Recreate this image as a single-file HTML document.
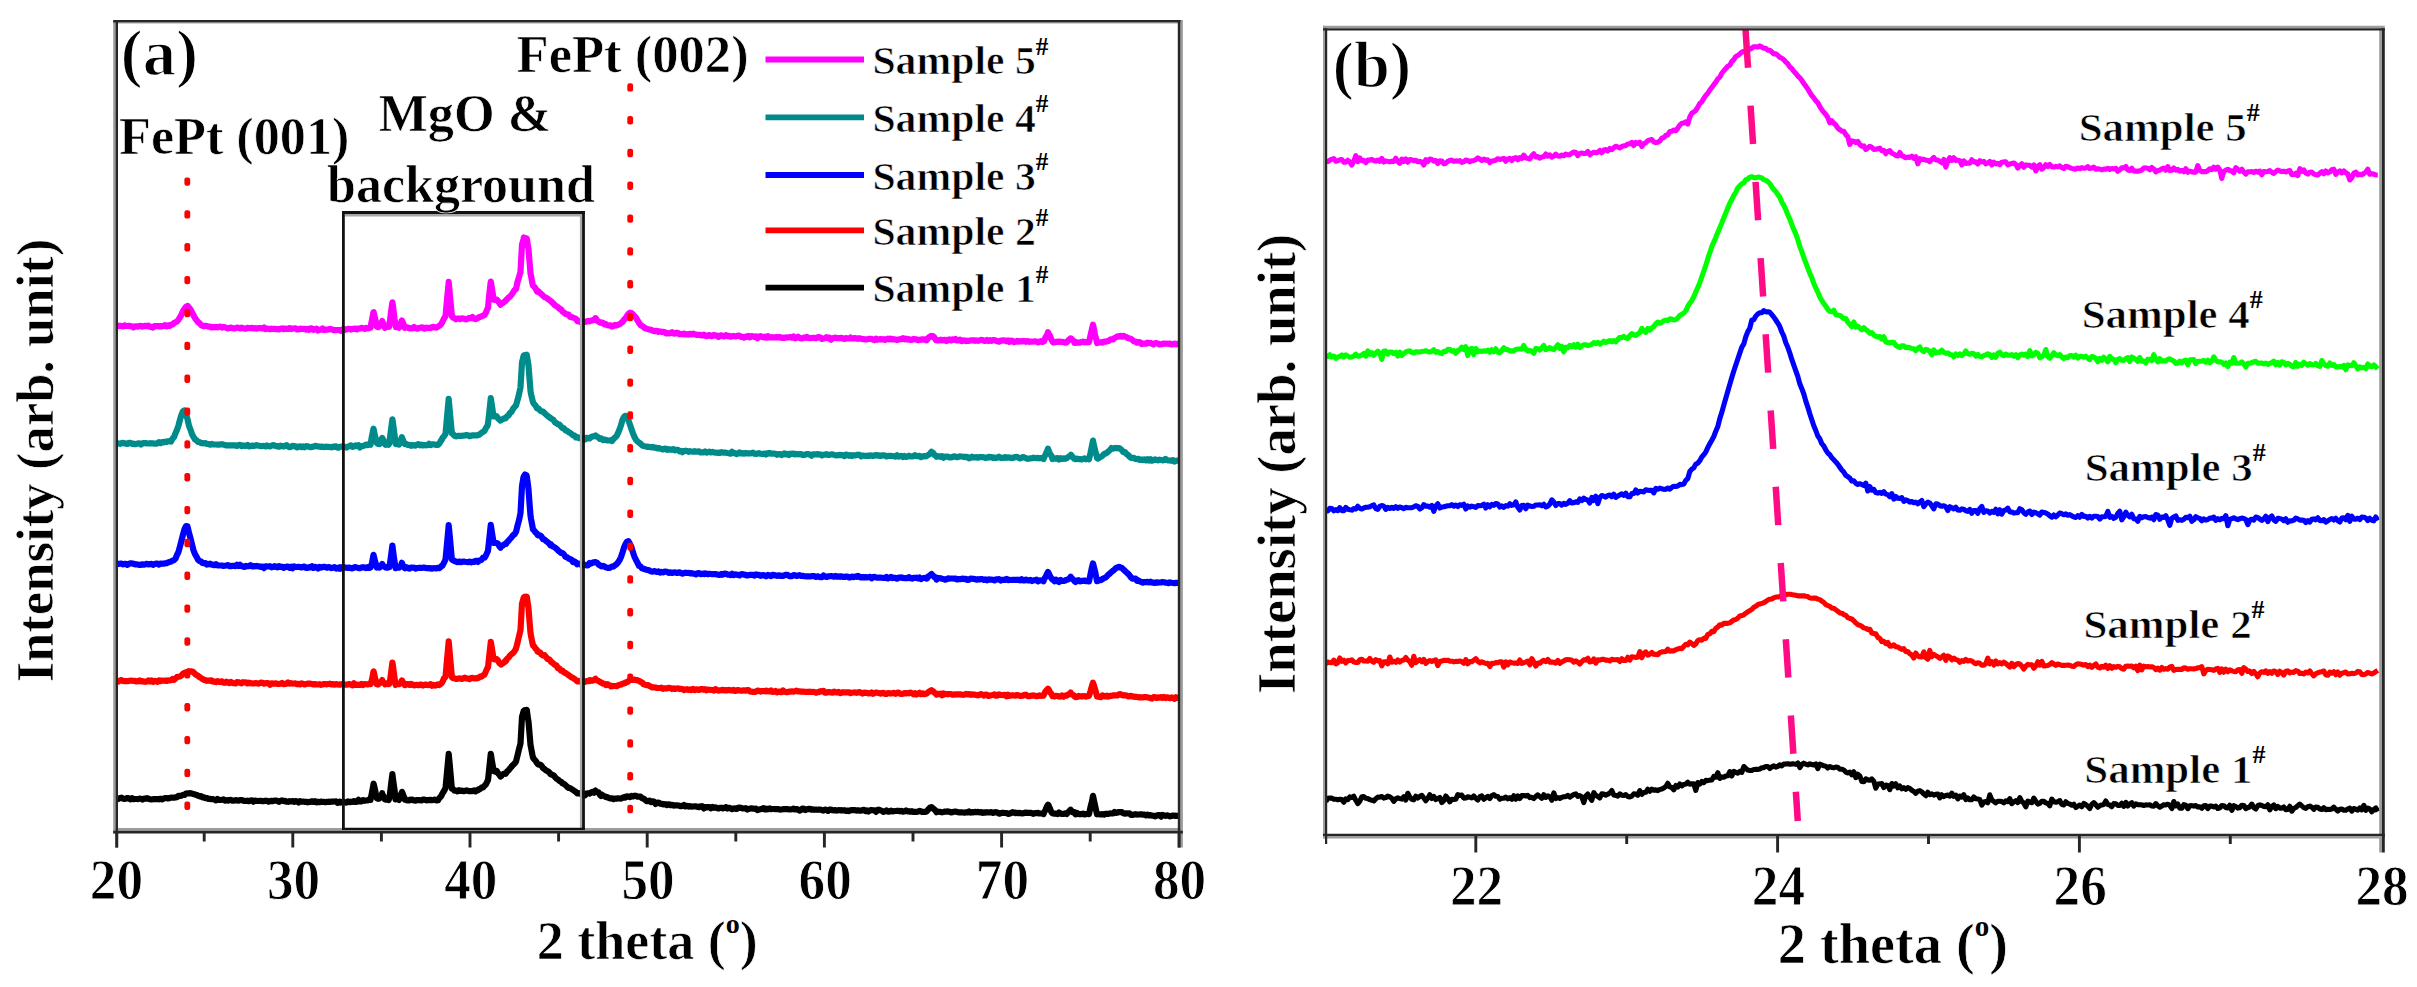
<!DOCTYPE html>
<html><head><meta charset="utf-8"><title>XRD patterns</title>
<style>html,body{margin:0;padding:0;background:#fff;overflow:hidden}svg{display:block}</style>
</head><body>
<svg width="2417" height="987" viewBox="0 0 2417 987">
<rect width="100%" height="100%" fill="#fff"/>
<g fill="none" stroke-width="6.2" stroke-linejoin="round" stroke-linecap="butt">
<path stroke="#ff00ff" d="M117.0 325.6L118.5 325.9L120.0 325.8L121.5 326.0L123.0 326.5L124.5 325.4L126.0 326.0L127.5 326.0L129.0 325.8L130.5 326.2L132.0 326.3L133.5 327.4L135.0 326.4L136.5 326.3L138.0 326.7L139.5 325.8L141.0 326.0L142.5 326.6L144.0 326.1L145.5 325.9L147.0 326.1L148.5 325.7L150.0 326.8L151.5 326.9L153.0 327.5L154.5 326.1L156.0 326.2L157.5 326.1L159.0 326.4L160.5 326.1L162.0 326.4L163.5 325.8L165.0 325.2L166.5 326.4L168.0 325.3L169.5 325.8L171.0 324.8L172.5 324.5L174.0 323.0L175.5 322.3L177.0 321.5L178.5 319.8L180.0 317.2L181.5 314.7L183.0 310.9L184.5 309.0L186.0 306.7L187.5 305.9L189.0 307.6L190.5 309.5L192.0 312.2L193.5 315.4L195.0 318.0L196.5 320.2L198.0 322.2L199.5 323.2L201.0 324.8L202.5 325.8L204.0 326.1L205.5 325.8L207.0 326.0L208.5 326.7L210.0 326.6L211.5 327.4L213.0 327.0L214.5 327.3L216.0 326.9L217.5 327.3L219.0 326.8L220.5 326.7L222.0 327.6L223.5 327.0L225.0 327.3L226.5 328.0L228.0 328.4L229.5 327.8L231.0 327.6L232.5 328.2L234.0 328.3L235.5 328.2L237.0 327.6L238.5 327.8L240.0 328.5L241.5 327.6L243.0 328.1L244.5 328.7L246.0 328.6L247.5 327.9L249.0 328.1L250.5 328.2L252.0 327.8L253.5 328.4L255.0 328.0L256.5 328.7L258.0 328.0L259.5 328.2L261.0 328.2L262.5 328.5L264.0 327.5L265.5 329.0L267.0 328.5L268.5 328.7L270.0 329.2L271.5 328.7L273.0 328.9L274.5 328.8L276.0 329.2L277.5 329.1L279.0 329.4L280.5 328.8L282.0 328.4L283.5 329.1L285.0 328.5L286.5 329.0L288.0 328.9L289.5 328.1L291.0 328.9L292.5 328.6L294.0 328.5L295.5 328.3L297.0 329.4L298.5 329.5L300.0 328.7L301.5 328.8L303.0 328.9L304.5 328.8L306.0 329.6L307.5 328.9L309.0 329.8L310.5 328.3L312.0 328.6L313.5 329.8L315.0 329.3L316.5 328.6L318.0 330.5L319.5 329.8L321.0 329.7L322.5 328.5L324.0 330.0L325.5 329.6L327.0 329.6L328.5 329.5L330.0 328.9L331.5 329.2L333.0 329.9L334.5 330.2L336.0 330.1L337.5 330.0L339.0 330.0L340.0 330.1L340.5 330.8L342.0 329.8L343.5 329.0L345.0 329.8L346.5 329.3L348.0 328.9L349.5 328.8L351.0 329.6L352.5 328.8L354.0 329.0L355.5 328.6L357.0 329.4L358.5 328.6L360.0 328.5L361.5 327.9L363.0 328.0L364.5 328.9L366.0 327.9L367.5 328.5L369.0 327.9L370.5 327.6L372.0 319.8L373.5 312.0L373.6 312.0L375.0 318.1L376.5 324.5L376.8 326.4L378.0 327.2L379.5 326.1L381.0 323.5L382.2 321.1L382.5 322.3L384.0 324.6L385.0 327.8L385.5 326.6L387.0 327.0L388.5 326.3L389.2 326.8L390.0 320.4L391.5 308.5L392.4 302.4L393.0 306.4L394.5 318.4L395.6 325.2L396.0 327.1L397.5 326.6L399.0 327.7L400.5 323.9L401.9 320.5L402.0 320.6L403.5 324.2L404.8 327.9L405.0 327.5L406.5 327.1L408.0 327.8L409.5 328.3L410.0 328.2L411.0 328.3L412.5 328.3L414.0 327.0L415.5 328.1L417.0 328.7L418.5 328.2L420.0 327.8L421.5 327.4L423.0 327.6L424.5 328.7L426.0 327.7L427.5 328.1L429.0 327.8L430.5 328.1L432.0 327.2L433.5 326.8L435.0 327.5L436.5 327.7L438.0 326.5L439.5 325.8L441.0 324.3L441.5 323.6L442.5 321.8L444.0 318.5L445.5 316.3L447.0 299.8L448.5 284.3L448.7 281.9L450.0 296.2L451.5 311.7L451.9 316.2L453.0 317.5L454.5 318.1L456.0 319.3L457.5 318.6L459.0 318.5L460.5 319.1L462.0 318.3L463.5 318.5L465.0 319.2L466.5 319.3L468.0 318.4L469.5 317.9L471.0 318.2L472.5 317.1L474.0 318.7L475.5 319.1L477.0 318.4L478.0 317.9L478.5 317.5L480.0 316.9L481.5 316.3L483.0 315.7L484.5 314.9L486.0 312.2L487.5 308.6L488.0 308.0L489.0 297.0L490.5 283.7L490.8 281.6L492.0 288.8L493.5 298.7L493.6 299.6L495.0 299.9L496.5 299.7L496.8 299.7L498.0 301.0L499.5 303.2L500.5 304.7L501.0 303.6L502.5 303.1L504.0 302.1L505.5 301.0L506.0 300.3L507.0 299.3L508.5 297.7L510.0 296.5L511.3 295.0L511.5 294.9L513.0 292.6L514.5 290.2L516.0 289.0L517.5 282.0L519.0 277.3L520.5 271.8L522.0 244.5L523.5 239.3L523.8 237.5L525.0 238.4L526.5 238.4L526.8 238.7L528.0 246.2L528.5 249.0L529.5 261.6L530.5 273.5L531.0 275.6L532.5 283.9L533.0 285.6L534.0 286.5L535.5 288.3L537.0 291.4L537.6 290.8L538.5 291.5L540.0 293.0L541.5 294.2L543.0 295.7L544.5 297.1L546.0 297.6L547.5 298.7L549.0 299.7L550.5 300.8L550.8 301.0L552.0 302.2L553.5 303.7L555.0 305.2L556.5 306.3L558.0 307.2L559.5 308.8L561.0 309.2L562.5 311.6L564.0 312.5L565.5 313.9L567.0 314.2L568.5 314.5L570.0 316.9L571.5 317.0L573.0 317.6L574.5 318.1L576.0 319.0L577.2 320.9L577.5 321.1L579.0 320.9L580.5 322.2L582.0 321.7L583.5 322.4L585.0 321.9L586.5 321.5L588.0 320.9L589.5 321.3L590.0 320.9L591.0 320.6L592.5 320.3L594.0 319.8L595.5 319.5L595.6 318.1L597.0 320.6L598.5 321.5L600.0 322.6L601.0 322.8L601.5 322.6L603.0 322.9L604.5 324.4L606.0 324.1L607.5 325.3L609.0 325.5L610.5 325.3L611.0 326.0L612.0 326.5L613.5 325.9L615.0 324.9L616.5 325.4L618.0 324.8L619.5 324.3L621.0 323.1L622.5 322.0L624.0 319.7L625.0 318.7L625.5 318.4L627.0 315.9L628.5 313.8L630.0 312.7L631.5 313.0L633.0 314.3L634.5 316.3L636.0 317.7L637.5 320.4L639.0 322.9L640.5 325.0L642.0 325.9L643.5 326.8L645.0 328.3L646.5 328.6L648.0 329.1L649.5 329.6L651.0 329.8L652.5 330.6L654.0 331.2L655.5 330.9L657.0 330.8L658.5 331.8L660.0 331.4L661.5 331.8L663.0 331.9L664.5 332.0L666.0 333.3L667.0 332.9L667.5 333.2L669.0 333.4L670.5 333.0L672.0 332.1L673.5 333.4L675.0 333.6L676.5 332.7L678.0 333.1L679.5 334.2L681.0 334.0L682.5 334.3L684.0 333.6L685.5 334.4L687.0 334.2L688.5 334.6L690.0 333.8L691.5 334.5L693.0 333.6L694.5 334.3L696.0 334.6L697.5 334.9L699.0 334.9L700.5 334.9L702.0 335.5L703.5 335.3L704.0 334.8L705.0 335.7L706.5 336.1L708.0 335.5L709.5 335.0L711.0 336.2L712.5 335.9L714.0 334.8L715.5 335.7L717.0 335.6L718.5 336.9L720.0 335.8L721.5 335.3L723.0 336.2L724.5 336.5L726.0 335.2L727.5 336.1L729.0 335.9L730.5 336.6L732.0 336.4L733.5 335.9L735.0 336.4L736.5 336.3L738.0 335.6L739.5 335.8L741.0 336.8L742.5 336.9L744.0 337.6L745.5 336.6L747.0 336.9L748.5 336.0L750.0 337.3L751.5 336.1L753.0 336.3L754.5 337.0L756.0 336.4L757.5 338.1L759.0 336.6L760.5 336.2L762.0 336.8L763.5 337.4L765.0 336.6L766.0 337.5L766.5 337.6L768.0 336.3L769.5 337.4L771.0 337.2L772.5 337.3L774.0 337.3L775.5 337.5L777.0 337.0L778.5 337.5L780.0 337.0L781.5 337.9L783.0 337.7L784.5 337.8L786.0 337.4L787.5 337.5L789.0 337.2L790.5 337.0L792.0 337.7L793.5 336.6L795.0 338.3L796.5 337.8L798.0 336.7L799.5 337.9L801.0 338.3L802.5 338.3L804.0 337.5L805.5 337.8L807.0 336.9L808.5 338.0L810.0 338.2L811.5 338.0L813.0 337.9L814.5 337.9L816.0 338.2L817.5 337.4L819.0 337.1L820.5 337.6L822.0 339.0L823.5 338.6L825.0 338.1L826.5 337.2L828.0 338.3L829.5 337.7L831.0 339.7L832.5 338.4L834.0 337.8L835.5 337.7L837.0 338.2L838.5 338.0L840.0 338.1L841.5 337.9L843.0 338.5L844.5 338.9L846.0 338.1L847.5 338.5L849.0 338.5L850.5 337.5L852.0 338.5L853.5 338.5L855.0 338.0L856.5 338.4L858.0 338.8L859.5 338.3L861.0 338.7L862.5 339.1L864.0 339.2L865.5 339.4L867.0 339.4L868.5 338.9L870.0 338.9L871.5 338.8L873.0 339.6L874.5 340.1L876.0 338.7L877.5 339.7L879.0 339.5L880.5 339.1L882.0 339.4L883.5 339.2L885.0 339.8L886.5 339.2L888.0 338.7L889.5 339.3L891.0 338.6L892.5 339.5L894.0 339.2L895.5 339.5L897.0 339.9L898.5 339.5L900.0 339.2L901.5 339.1L903.0 338.2L904.5 339.3L906.0 338.7L907.5 339.6L909.0 339.2L910.5 340.0L912.0 339.7L913.5 338.9L915.0 339.3L916.5 339.4L918.0 340.1L919.5 339.9L921.0 339.6L922.5 339.3L924.0 339.7L925.5 339.3L926.5 340.3L927.0 339.6L928.5 337.7L930.0 336.6L931.5 335.9L931.6 336.6L933.0 336.1L934.5 337.7L936.0 340.2L936.5 340.2L937.5 340.3L939.0 340.4L940.5 339.7L942.0 340.3L943.5 340.2L945.0 339.8L946.5 341.0L948.0 339.9L949.5 339.3L951.0 340.3L952.5 339.3L954.0 339.9L955.5 339.0L957.0 340.4L958.5 340.3L960.0 339.7L961.5 341.1L963.0 340.4L964.5 340.5L966.0 341.1L967.5 340.7L969.0 340.9L970.5 340.4L972.0 340.3L973.5 340.3L975.0 340.8L976.5 340.4L978.0 340.8L979.5 340.4L981.0 339.9L982.5 340.0L984.0 340.8L985.5 340.8L987.0 340.0L988.5 341.0L990.0 340.2L991.5 340.8L993.0 340.2L994.5 340.1L996.0 340.8L997.5 341.3L999.0 341.7L1000.5 340.7L1002.0 340.6L1003.5 340.3L1005.0 340.5L1006.5 341.3L1008.0 340.5L1009.5 341.9L1011.0 340.7L1012.5 340.8L1014.0 342.1L1015.5 341.7L1017.0 340.9L1018.5 341.6L1020.0 341.2L1021.5 341.5L1023.0 341.1L1024.5 341.0L1026.0 341.8L1027.5 341.0L1029.0 341.8L1030.5 341.7L1032.0 341.7L1033.5 341.5L1035.0 341.3L1036.5 341.5L1038.0 342.4L1039.5 341.7L1041.0 341.2L1042.5 341.9L1043.5 341.4L1044.0 341.3L1045.5 337.4L1047.0 335.3L1048.0 332.2L1048.5 333.5L1050.0 335.9L1051.5 339.9L1052.5 341.4L1053.0 342.3L1054.5 342.3L1056.0 341.9L1057.5 341.9L1059.0 341.6L1060.5 341.8L1062.0 341.9L1063.5 342.1L1065.0 342.7L1066.5 342.5L1068.0 340.7L1069.5 339.5L1070.6 338.3L1071.0 338.5L1072.5 340.0L1074.0 341.0L1074.5 342.8L1075.5 341.9L1077.0 342.8L1078.5 342.5L1080.0 342.7L1081.5 342.1L1083.0 341.7L1084.5 342.3L1086.0 342.1L1087.5 342.3L1089.0 342.1L1090.5 335.5L1092.0 329.0L1093.0 324.7L1093.5 326.7L1095.0 335.0L1096.5 340.2L1097.0 343.0L1098.0 342.7L1099.5 342.4L1101.0 342.3L1102.5 342.6L1104.0 341.5L1105.5 341.7L1107.0 341.2L1108.5 340.9L1110.0 339.8L1111.5 339.3L1113.0 339.4L1114.5 338.0L1116.0 337.3L1117.5 336.3L1119.0 336.5L1120.5 335.9L1122.0 336.6L1123.5 335.9L1125.0 336.6L1126.5 337.1L1128.0 338.0L1129.5 338.4L1131.0 338.9L1132.5 340.1L1134.0 341.3L1135.5 341.6L1137.0 342.7L1138.5 342.0L1140.0 342.3L1141.5 344.1L1143.0 343.7L1144.5 343.6L1146.0 343.7L1147.5 342.6L1149.0 343.1L1150.5 343.0L1152.0 343.6L1153.5 344.4L1155.0 343.4L1156.5 343.1L1158.0 343.6L1159.5 344.4L1161.0 344.2L1162.5 343.9L1164.0 343.6L1165.5 343.5L1167.0 343.7L1168.5 343.8L1170.0 343.6L1171.5 344.4L1173.0 344.2L1174.5 343.5L1176.0 344.4L1177.5 343.8L1179.0 344.5"/>
<path stroke="#008b8b" d="M117.0 442.8L118.5 443.5L120.0 443.8L121.5 443.2L123.0 442.8L124.5 443.4L126.0 443.6L127.5 443.9L129.0 442.9L130.5 442.9L132.0 443.8L133.5 443.7L135.0 444.2L136.5 443.9L138.0 443.4L139.5 443.4L141.0 444.6L142.5 443.4L144.0 443.1L145.5 443.0L147.0 443.5L148.5 443.5L150.0 443.2L151.5 443.3L153.0 443.4L154.5 443.6L156.0 443.7L157.5 443.2L159.0 442.2L160.5 443.2L162.0 442.1L163.5 442.5L165.0 441.7L166.5 442.1L168.0 441.3L169.5 441.1L171.0 441.6L172.5 438.7L174.0 437.1L175.5 433.2L177.0 429.8L178.5 425.4L180.0 419.6L181.5 414.6L183.0 411.1L184.5 410.5L186.0 414.5L187.5 419.0L189.0 425.8L190.5 429.6L192.0 434.2L193.5 436.9L195.0 439.4L196.5 440.2L198.0 441.9L199.5 442.0L201.0 443.1L202.5 443.2L204.0 443.3L205.5 443.1L207.0 444.0L208.5 444.0L210.0 444.7L211.5 443.9L213.0 444.5L214.5 444.5L216.0 444.5L217.5 444.6L219.0 444.6L220.5 444.4L222.0 444.2L223.5 444.6L225.0 445.1L226.5 445.5L228.0 445.3L229.5 445.4L231.0 445.3L232.5 445.4L234.0 445.2L235.5 445.5L237.0 446.0L238.5 445.0L240.0 444.9L241.5 446.2L243.0 445.4L244.5 445.8L246.0 445.8L247.5 444.9L249.0 446.5L250.5 446.3L252.0 445.6L253.5 445.9L255.0 445.6L256.5 445.2L258.0 445.6L259.5 445.8L261.0 446.2L262.5 446.0L264.0 445.8L265.5 446.4L267.0 445.4L268.5 446.2L270.0 446.3L271.5 445.7L273.0 445.1L274.5 445.5L276.0 446.1L277.5 446.2L279.0 446.7L280.5 445.6L282.0 446.1L283.5 446.4L285.0 446.0L286.5 445.1L288.0 446.5L289.5 447.2L291.0 446.7L292.5 445.8L294.0 446.1L295.5 446.4L297.0 447.4L298.5 446.6L300.0 446.4L301.5 447.1L303.0 446.4L304.5 447.3L306.0 446.2L307.5 446.3L309.0 446.8L310.5 447.2L312.0 446.9L313.5 446.7L315.0 445.8L316.5 446.3L318.0 446.4L319.5 446.5L321.0 447.0L322.5 446.6L324.0 447.1L325.5 446.8L327.0 446.7L328.5 446.9L330.0 447.1L331.5 447.3L333.0 446.7L334.5 446.8L336.0 446.3L337.5 447.7L339.0 447.7L340.0 446.9L340.5 446.8L342.0 446.4L343.5 446.9L345.0 446.8L346.5 447.6L348.0 446.7L349.5 446.1L351.0 445.3L352.5 446.9L354.0 446.3L355.5 445.4L357.0 446.1L358.5 445.2L360.0 447.4L361.5 446.2L363.0 445.9L364.5 445.5L366.0 444.5L367.5 445.1L369.0 444.1L370.5 444.8L372.0 435.8L373.5 428.7L373.6 429.1L375.0 435.9L376.5 441.7L376.8 442.9L378.0 444.0L379.5 444.1L381.0 440.2L382.2 437.9L382.5 438.5L384.0 441.6L385.0 444.0L385.5 444.8L387.0 444.4L388.5 444.8L389.2 443.8L390.0 437.7L391.5 425.8L392.4 419.3L393.0 423.3L394.5 434.4L395.6 443.7L396.0 444.1L397.5 444.1L399.0 444.6L400.5 440.8L401.9 437.2L402.0 437.8L403.5 441.2L404.8 444.1L405.0 443.8L406.5 444.1L408.0 444.9L409.5 445.2L410.0 444.9L411.0 445.8L412.5 445.2L414.0 445.3L415.5 445.6L417.0 444.7L418.5 444.1L420.0 445.3L421.5 444.6L423.0 445.5L424.5 445.0L426.0 445.3L427.5 445.2L429.0 443.8L430.5 445.1L432.0 444.4L433.5 444.4L435.0 444.5L436.5 445.0L438.0 445.0L439.5 443.4L441.0 440.5L441.5 440.4L442.5 437.9L444.0 436.3L445.5 434.0L447.0 417.0L448.5 401.1L448.7 398.9L450.0 413.5L451.5 429.1L451.9 433.4L453.0 434.0L454.5 435.9L456.0 436.4L457.5 435.8L459.0 435.9L460.5 435.8L462.0 435.8L463.5 435.6L465.0 435.5L466.5 435.0L468.0 435.2L469.5 436.2L471.0 435.7L472.5 435.4L474.0 435.3L475.5 435.3L477.0 435.4L478.0 434.9L478.5 435.0L480.0 434.1L481.5 432.8L483.0 431.9L484.5 430.9L486.0 427.9L487.5 425.8L488.0 423.3L489.0 415.0L490.5 400.9L490.8 398.2L492.0 406.2L493.5 416.3L493.6 416.5L495.0 416.4L496.5 416.2L496.8 416.5L498.0 418.4L499.5 419.7L500.5 420.6L501.0 420.2L502.5 419.3L504.0 418.3L505.5 418.5L506.0 417.8L507.0 416.4L508.5 415.5L510.0 412.9L511.3 412.1L511.5 411.9L513.0 408.9L514.5 407.0L516.0 405.4L517.5 400.2L519.0 394.4L520.5 387.3L522.0 362.4L523.5 356.3L523.8 355.3L525.0 355.2L526.5 355.3L526.8 354.7L528.0 362.5L528.5 365.4L529.5 378.2L530.5 391.0L531.0 393.9L532.5 400.3L533.0 402.3L534.0 404.0L535.5 405.4L537.0 408.4L537.6 408.4L538.5 408.5L540.0 410.4L541.5 411.4L543.0 411.6L544.5 413.2L546.0 414.5L547.5 415.8L549.0 417.0L550.5 417.9L550.8 418.4L552.0 419.0L553.5 420.1L555.0 422.4L556.5 423.1L558.0 424.3L559.5 424.6L561.0 426.5L562.5 428.1L564.0 428.4L565.5 430.4L567.0 430.7L568.5 432.1L570.0 432.8L571.5 433.9L573.0 435.4L574.5 435.6L576.0 437.5L577.2 437.2L577.5 437.2L579.0 438.2L580.5 437.7L582.0 438.3L583.5 439.2L585.0 439.6L586.5 437.8L588.0 438.3L589.5 438.5L590.0 438.0L591.0 437.1L592.5 436.5L594.0 436.2L595.5 435.4L595.6 435.7L597.0 436.6L598.5 437.5L600.0 439.0L601.0 439.0L601.5 438.6L603.0 440.1L604.5 439.5L606.0 440.1L607.5 440.5L609.0 440.5L610.5 440.2L611.0 440.5L612.0 441.1L613.5 438.9L615.0 437.6L616.5 436.1L618.0 433.1L619.5 429.5L621.0 425.3L622.5 419.8L624.0 416.8L625.0 416.0L625.5 415.9L627.0 417.4L628.5 420.5L630.0 424.7L631.5 429.4L633.0 433.4L634.5 437.0L636.0 439.8L637.5 441.4L639.0 442.6L640.5 443.6L642.0 445.3L643.5 445.9L645.0 446.3L646.5 446.6L648.0 446.9L649.5 446.9L651.0 447.4L652.5 446.9L654.0 447.6L655.5 447.5L657.0 448.4L658.5 448.0L660.0 448.5L661.5 448.9L663.0 449.5L664.5 448.7L666.0 448.8L667.0 449.7L667.5 448.9L669.0 449.7L670.5 449.4L672.0 449.8L673.5 449.1L675.0 450.4L676.5 449.9L678.0 449.9L679.5 451.3L681.0 450.9L682.5 452.2L684.0 451.0L685.5 450.7L687.0 451.0L688.5 451.8L690.0 451.2L691.5 451.5L693.0 451.7L694.5 451.2L696.0 451.7L697.5 451.6L699.0 451.3L700.5 452.4L702.0 452.4L703.5 452.3L704.0 451.9L705.0 451.4L706.5 452.6L708.0 452.3L709.5 451.7L711.0 452.4L712.5 451.8L714.0 452.5L715.5 452.6L717.0 452.8L718.5 452.7L720.0 452.8L721.5 452.2L723.0 452.6L724.5 452.6L726.0 452.7L727.5 453.0L729.0 453.2L730.5 453.7L732.0 451.8L733.5 453.2L735.0 453.0L736.5 454.1L738.0 453.6L739.5 452.4L741.0 453.4L742.5 453.0L744.0 453.7L745.5 452.9L747.0 453.3L748.5 453.4L750.0 453.4L751.5 453.2L753.0 452.7L754.5 453.8L756.0 454.0L757.5 453.6L759.0 453.2L760.5 453.8L762.0 454.0L763.5 453.7L765.0 453.8L766.0 454.5L766.5 453.3L768.0 453.6L769.5 453.0L771.0 453.6L772.5 453.6L774.0 453.5L775.5 453.7L777.0 454.8L778.5 454.0L780.0 454.0L781.5 455.1L783.0 454.1L784.5 453.4L786.0 454.4L787.5 453.8L789.0 455.0L790.5 453.7L792.0 454.0L793.5 453.6L795.0 454.4L796.5 453.9L798.0 454.3L799.5 454.2L801.0 454.1L802.5 454.9L804.0 454.9L805.5 454.5L807.0 454.1L808.5 454.1L810.0 454.7L811.5 455.7L813.0 454.4L814.5 454.3L816.0 454.3L817.5 454.2L819.0 454.3L820.5 454.6L822.0 455.4L823.5 454.8L825.0 454.6L826.5 454.1L828.0 455.0L829.5 454.9L831.0 454.4L832.5 454.4L834.0 454.9L835.5 455.4L837.0 455.3L838.5 455.1L840.0 454.9L841.5 455.2L843.0 455.1L844.5 456.1L846.0 454.6L847.5 455.0L849.0 455.8L850.5 455.1L852.0 455.9L853.5 455.2L855.0 455.4L856.5 455.1L858.0 454.7L859.5 454.9L861.0 456.4L862.5 455.7L864.0 455.7L865.5 455.9L867.0 455.7L868.5 456.0L870.0 455.4L871.5 455.5L873.0 456.0L874.5 455.4L876.0 455.0L877.5 455.6L879.0 455.4L880.5 456.0L882.0 455.4L883.5 455.3L885.0 455.6L886.5 456.5L888.0 455.8L889.5 455.9L891.0 455.9L892.5 456.0L894.0 456.3L895.5 456.6L897.0 455.2L898.5 456.6L900.0 456.0L901.5 455.9L903.0 457.1L904.5 456.0L906.0 457.0L907.5 456.6L909.0 455.7L910.5 456.4L912.0 456.5L913.5 456.2L915.0 455.2L916.5 456.1L918.0 456.2L919.5 455.8L921.0 457.2L922.5 456.3L924.0 456.2L925.5 456.3L926.5 456.1L927.0 455.7L928.5 454.8L930.0 453.6L931.5 451.9L931.6 452.0L933.0 452.7L934.5 455.0L936.0 455.8L936.5 456.7L937.5 456.2L939.0 456.4L940.5 456.8L942.0 456.1L943.5 457.8L945.0 456.7L946.5 456.7L948.0 456.5L949.5 457.5L951.0 457.5L952.5 457.0L954.0 456.3L955.5 456.7L957.0 457.2L958.5 456.7L960.0 456.4L961.5 456.5L963.0 456.7L964.5 457.1L966.0 456.8L967.5 457.1L969.0 458.4L970.5 457.9L972.0 456.7L973.5 457.4L975.0 457.3L976.5 457.2L978.0 457.7L979.5 457.1L981.0 457.2L982.5 457.2L984.0 457.3L985.5 458.0L987.0 457.8L988.5 456.8L990.0 457.3L991.5 457.1L993.0 457.9L994.5 457.6L996.0 458.0L997.5 457.6L999.0 456.7L1000.5 457.8L1002.0 457.8L1003.5 457.9L1005.0 457.1L1006.5 457.8L1008.0 457.4L1009.5 457.5L1011.0 458.0L1012.5 458.0L1014.0 457.4L1015.5 457.1L1017.0 456.8L1018.5 457.7L1020.0 458.4L1021.5 457.9L1023.0 457.0L1024.5 457.6L1026.0 458.2L1027.5 458.8L1029.0 458.6L1030.5 458.3L1032.0 458.2L1033.5 457.7L1035.0 458.0L1036.5 458.1L1038.0 457.9L1039.5 458.3L1041.0 458.1L1042.5 458.5L1043.5 459.0L1044.0 457.7L1045.5 454.5L1047.0 451.3L1048.0 448.7L1048.5 450.3L1050.0 453.7L1051.5 456.0L1052.5 459.0L1053.0 458.3L1054.5 458.7L1056.0 458.4L1057.5 458.0L1059.0 459.5L1060.5 458.1L1062.0 459.0L1063.5 458.4L1065.0 458.8L1066.5 458.3L1068.0 457.1L1069.5 456.2L1070.6 455.6L1071.0 454.8L1072.5 456.7L1074.0 458.7L1074.5 458.5L1075.5 459.2L1077.0 458.5L1078.5 459.2L1080.0 459.1L1081.5 459.5L1083.0 459.1L1084.5 458.4L1086.0 459.3L1087.5 458.5L1089.0 459.3L1090.5 452.9L1092.0 445.6L1093.0 440.6L1093.5 443.5L1095.0 449.7L1096.5 455.5L1097.0 458.0L1098.0 458.6L1099.5 457.3L1101.0 456.8L1102.5 455.7L1104.0 454.1L1105.5 453.5L1107.0 452.7L1108.5 451.3L1110.0 450.0L1111.5 448.0L1113.0 448.7L1114.5 448.0L1116.0 447.9L1117.5 448.3L1119.0 448.1L1120.5 448.9L1122.0 450.4L1123.5 452.2L1125.0 452.0L1126.5 454.0L1128.0 454.9L1129.5 456.6L1131.0 457.9L1132.5 457.8L1134.0 457.9L1135.5 459.0L1137.0 459.1L1138.5 458.8L1140.0 460.0L1141.5 459.5L1143.0 460.1L1144.5 459.3L1146.0 460.4L1147.5 459.3L1149.0 460.5L1150.5 459.2L1152.0 460.7L1153.5 459.9L1155.0 459.4L1156.5 460.0L1158.0 460.3L1159.5 459.7L1161.0 460.0L1162.5 460.3L1164.0 460.2L1165.5 458.9L1167.0 460.1L1168.5 460.5L1170.0 460.5L1171.5 460.8L1173.0 460.1L1174.5 461.6L1176.0 460.8L1177.5 460.6L1179.0 461.0"/>
<path stroke="#0000ff" d="M117.0 563.2L118.5 563.9L120.0 563.7L121.5 563.7L123.0 564.3L124.5 563.9L126.0 563.8L127.5 564.8L129.0 563.7L130.5 563.4L132.0 563.4L133.5 563.8L135.0 564.3L136.5 564.4L138.0 564.5L139.5 564.9L141.0 564.8L142.5 564.3L144.0 564.6L145.5 564.3L147.0 563.8L148.5 564.4L150.0 564.0L151.5 563.9L153.0 564.8L154.5 564.2L156.0 563.6L157.5 563.7L159.0 564.7L160.5 563.5L162.0 563.8L163.5 563.6L165.0 563.4L166.5 563.2L168.0 562.4L169.5 562.0L171.0 561.6L172.5 560.7L174.0 560.1L175.5 558.6L177.0 554.9L178.5 551.8L180.0 546.3L181.5 540.6L183.0 534.5L184.5 529.1L186.0 526.1L187.5 526.4L189.0 532.9L190.5 538.4L192.0 544.4L193.5 550.3L195.0 554.0L196.5 556.7L198.0 559.7L199.5 561.1L201.0 561.5L202.5 563.0L204.0 563.3L205.5 563.0L207.0 564.6L208.5 564.2L210.0 563.7L211.5 564.6L213.0 564.7L214.5 565.2L216.0 564.2L217.5 565.4L219.0 565.5L220.5 565.5L222.0 565.5L223.5 565.9L225.0 565.7L226.5 565.5L228.0 565.1L229.5 566.1L231.0 566.1L232.5 565.8L234.0 565.8L235.5 566.1L237.0 564.7L238.5 566.0L240.0 564.8L241.5 566.1L243.0 566.5L244.5 566.9L246.0 565.9L247.5 566.3L249.0 566.1L250.5 565.2L252.0 566.5L253.5 566.2L255.0 566.3L256.5 565.9L258.0 566.3L259.5 566.4L261.0 567.0L262.5 566.6L264.0 568.1L265.5 566.3L267.0 566.4L268.5 566.5L270.0 566.2L271.5 567.3L273.0 567.0L274.5 566.1L276.0 566.8L277.5 567.3L279.0 566.1L280.5 566.9L282.0 566.7L283.5 567.9L285.0 567.1L286.5 566.7L288.0 566.7L289.5 567.9L291.0 566.8L292.5 568.1L294.0 566.4L295.5 567.0L297.0 567.0L298.5 566.8L300.0 567.1L301.5 567.5L303.0 566.9L304.5 566.6L306.0 567.9L307.5 568.0L309.0 567.0L310.5 567.5L312.0 566.2L313.5 567.9L315.0 566.9L316.5 567.2L318.0 568.5L319.5 567.0L321.0 567.6L322.5 567.1L324.0 566.8L325.5 567.1L327.0 567.8L328.5 567.1L330.0 567.5L331.5 568.1L333.0 567.7L334.5 567.2L336.0 568.5L337.5 567.9L339.0 568.5L340.0 567.4L340.5 568.7L342.0 567.3L343.5 567.1L345.0 567.7L346.5 567.7L348.0 568.0L349.5 567.6L351.0 568.1L352.5 568.4L354.0 567.5L355.5 567.1L357.0 567.6L358.5 568.1L360.0 568.1L361.5 567.5L363.0 567.2L364.5 567.6L366.0 568.1L367.5 567.2L369.0 568.0L370.5 567.4L372.0 562.9L373.5 554.8L373.6 555.1L375.0 561.1L376.5 565.9L376.8 567.5L378.0 566.9L379.5 567.6L381.0 566.1L382.2 563.9L382.5 564.9L384.0 566.4L385.0 567.0L385.5 567.4L387.0 567.7L388.5 567.4L389.2 567.3L390.0 563.4L391.5 552.5L392.4 545.5L393.0 550.3L394.5 561.3L395.6 568.2L396.0 566.5L397.5 567.3L399.0 567.7L400.5 566.7L401.9 562.8L402.0 563.2L403.5 566.5L404.8 568.2L405.0 568.3L406.5 567.2L408.0 568.0L409.5 568.6L410.0 568.1L411.0 567.6L412.5 567.7L414.0 567.5L415.5 568.6L417.0 568.0L418.5 567.9L420.0 567.7L421.5 568.0L423.0 567.7L424.5 567.7L426.0 568.1L427.5 568.0L429.0 568.3L430.5 568.2L432.0 568.7L433.5 568.1L435.0 568.3L436.5 568.3L438.0 567.8L439.5 568.1L441.0 566.7L441.5 566.0L442.5 565.6L444.0 562.7L445.5 559.5L447.0 543.9L448.5 527.5L448.7 525.2L450.0 538.6L451.5 555.6L451.9 559.4L453.0 560.2L454.5 561.0L456.0 561.6L457.5 562.2L459.0 561.5L460.5 562.1L462.0 561.9L463.5 561.5L465.0 561.8L466.5 562.0L468.0 562.2L469.5 561.5L471.0 562.4L472.5 561.8L474.0 562.0L475.5 560.8L477.0 560.9L478.0 561.9L478.5 561.0L480.0 560.4L481.5 559.8L483.0 557.7L484.5 557.7L486.0 555.4L487.5 551.9L488.0 550.6L489.0 541.5L490.5 527.4L490.8 524.9L492.0 532.9L493.5 541.9L493.6 542.9L495.0 542.8L496.5 543.0L496.8 543.1L498.0 543.7L499.5 546.5L500.5 547.6L501.0 546.4L502.5 545.9L504.0 544.4L505.5 544.0L506.0 544.0L507.0 542.2L508.5 540.7L510.0 539.0L511.3 537.6L511.5 537.3L513.0 535.3L514.5 534.2L516.0 531.9L517.5 525.7L519.0 520.4L520.5 513.2L522.0 486.2L523.5 477.1L523.8 476.7L525.0 474.5L526.5 475.2L526.8 476.3L528.0 485.2L528.5 489.3L529.5 503.2L530.5 515.6L531.0 518.8L532.5 526.7L533.0 529.4L534.0 530.4L535.5 532.4L537.0 533.7L537.6 534.9L538.5 535.5L540.0 535.3L541.5 536.6L543.0 539.2L544.5 539.5L546.0 540.9L547.5 542.0L549.0 543.3L550.5 545.3L550.8 544.2L552.0 545.6L553.5 546.8L555.0 547.5L556.5 548.8L558.0 550.3L559.5 551.6L561.0 553.0L562.5 553.1L564.0 554.5L565.5 557.0L567.0 557.1L568.5 558.6L570.0 559.0L571.5 559.8L573.0 562.1L574.5 561.5L576.0 562.7L577.2 564.2L577.5 563.9L579.0 563.5L580.5 564.6L582.0 565.1L583.5 564.4L585.0 565.1L586.5 565.3L588.0 565.3L589.5 563.0L590.0 563.6L591.0 563.6L592.5 562.8L594.0 562.3L595.5 562.1L595.6 562.5L597.0 562.7L598.5 564.5L600.0 565.4L601.0 566.0L601.5 566.4L603.0 565.9L604.5 566.6L606.0 567.4L607.5 567.9L609.0 568.0L610.5 567.4L611.0 567.3L612.0 566.6L613.5 566.4L615.0 565.3L616.5 564.2L618.0 562.4L619.5 560.3L621.0 557.0L622.5 552.5L624.0 547.6L625.0 545.3L625.5 544.2L627.0 541.7L628.5 541.2L630.0 543.9L631.5 547.3L633.0 552.5L634.5 556.8L636.0 560.0L637.5 562.7L639.0 565.8L640.5 566.4L642.0 568.3L643.5 568.7L645.0 569.2L646.5 569.7L648.0 570.0L649.5 570.5L651.0 571.5L652.5 571.6L654.0 571.1L655.5 571.5L657.0 571.9L658.5 571.4L660.0 572.6L661.5 571.9L663.0 572.3L664.5 571.7L666.0 571.7L667.0 571.9L667.5 572.1L669.0 572.9L670.5 572.4L672.0 573.0L673.5 572.5L675.0 572.3L676.5 572.9L678.0 572.8L679.5 572.3L681.0 573.1L682.5 573.7L684.0 573.1L685.5 572.7L687.0 573.0L688.5 572.9L690.0 573.4L691.5 573.1L693.0 573.6L694.5 573.8L696.0 574.3L697.5 573.3L699.0 573.0L700.5 574.2L702.0 573.8L703.5 573.6L704.0 574.0L705.0 573.4L706.5 573.7L708.0 574.2L709.5 573.8L711.0 574.0L712.5 574.2L714.0 574.1L715.5 574.0L717.0 574.4L718.5 574.8L720.0 574.8L721.5 573.9L723.0 574.7L724.5 573.5L726.0 573.8L727.5 574.6L729.0 574.7L730.5 575.1L732.0 573.8L733.5 575.1L735.0 574.4L736.5 574.5L738.0 574.9L739.5 575.4L741.0 574.4L742.5 574.1L744.0 574.6L745.5 574.9L747.0 575.5L748.5 575.2L750.0 574.9L751.5 574.8L753.0 574.9L754.5 575.6L756.0 574.4L757.5 574.9L759.0 574.9L760.5 575.8L762.0 575.4L763.5 575.1L765.0 575.8L766.0 576.3L766.5 575.9L768.0 574.9L769.5 575.4L771.0 576.1L772.5 574.8L774.0 575.1L775.5 575.4L777.0 575.9L778.5 575.3L780.0 575.8L781.5 575.7L783.0 575.9L784.5 575.3L786.0 574.8L787.5 574.9L789.0 575.9L790.5 576.3L792.0 576.1L793.5 575.2L795.0 575.2L796.5 575.9L798.0 575.6L799.5 575.2L801.0 575.8L802.5 575.8L804.0 576.1L805.5 576.3L807.0 576.3L808.5 576.3L810.0 576.5L811.5 576.2L813.0 576.1L814.5 576.2L816.0 576.9L817.5 576.3L819.0 576.8L820.5 577.2L822.0 577.2L823.5 575.5L825.0 576.6L826.5 577.0L828.0 576.4L829.5 576.3L831.0 576.0L832.5 576.3L834.0 576.7L835.5 575.9L837.0 576.7L838.5 576.4L840.0 576.8L841.5 576.3L843.0 576.9L844.5 576.9L846.0 576.6L847.5 576.6L849.0 577.4L850.5 577.3L852.0 576.6L853.5 577.2L855.0 576.5L856.5 576.8L858.0 575.8L859.5 576.9L861.0 577.5L862.5 577.0L864.0 577.5L865.5 577.0L867.0 577.4L868.5 577.2L870.0 576.9L871.5 578.3L873.0 577.0L874.5 576.8L876.0 577.5L877.5 577.7L879.0 577.6L880.5 577.5L882.0 577.7L883.5 578.0L885.0 577.9L886.5 577.0L888.0 578.4L889.5 577.7L891.0 576.8L892.5 578.1L894.0 577.7L895.5 577.9L897.0 578.7L898.5 577.6L900.0 577.6L901.5 577.4L903.0 578.0L904.5 578.2L906.0 578.1L907.5 578.1L909.0 577.1L910.5 578.2L912.0 578.6L913.5 577.9L915.0 577.9L916.5 577.7L918.0 578.3L919.5 577.5L921.0 579.1L922.5 578.2L924.0 578.0L925.5 577.8L926.5 578.6L927.0 578.3L928.5 576.3L930.0 575.4L931.5 574.1L931.6 574.4L933.0 575.5L934.5 577.2L936.0 577.4L936.5 579.7L937.5 578.3L939.0 578.0L940.5 578.2L942.0 578.8L943.5 579.0L945.0 579.7L946.5 579.2L948.0 578.4L949.5 578.6L951.0 578.5L952.5 578.5L954.0 578.7L955.5 578.6L957.0 579.4L958.5 579.0L960.0 579.2L961.5 578.9L963.0 578.5L964.5 579.2L966.0 578.8L967.5 579.9L969.0 579.6L970.5 578.6L972.0 578.7L973.5 578.9L975.0 579.1L976.5 579.7L978.0 579.2L979.5 579.5L981.0 579.1L982.5 579.2L984.0 579.9L985.5 579.4L987.0 580.3L988.5 579.4L990.0 579.6L991.5 579.7L993.0 579.8L994.5 580.4L996.0 579.3L997.5 579.3L999.0 579.2L1000.5 580.5L1002.0 579.9L1003.5 579.9L1005.0 579.9L1006.5 578.9L1008.0 580.1L1009.5 579.9L1011.0 580.0L1012.5 579.9L1014.0 579.8L1015.5 579.9L1017.0 579.7L1018.5 579.9L1020.0 580.3L1021.5 579.1L1023.0 580.4L1024.5 580.4L1026.0 579.6L1027.5 580.3L1029.0 580.3L1030.5 579.9L1032.0 581.0L1033.5 580.3L1035.0 580.2L1036.5 579.7L1038.0 581.3L1039.5 580.4L1041.0 580.5L1042.5 580.3L1043.5 581.3L1044.0 579.3L1045.5 577.1L1047.0 573.9L1048.0 571.9L1048.5 572.8L1050.0 576.0L1051.5 578.5L1052.5 579.6L1053.0 579.4L1054.5 581.1L1056.0 579.7L1057.5 581.3L1059.0 582.1L1060.5 579.9L1062.0 581.0L1063.5 581.0L1065.0 580.5L1066.5 579.9L1068.0 579.3L1069.5 578.7L1070.6 576.8L1071.0 577.3L1072.5 578.9L1074.0 580.4L1074.5 581.1L1075.5 582.0L1077.0 580.6L1078.5 580.2L1080.0 581.4L1081.5 580.8L1083.0 580.9L1084.5 580.5L1086.0 581.1L1087.5 581.0L1089.0 581.4L1090.5 574.3L1092.0 567.0L1093.0 563.4L1093.5 565.3L1095.0 571.2L1096.5 578.5L1097.0 581.2L1098.0 580.7L1099.5 580.2L1101.0 580.2L1102.5 579.0L1104.0 578.1L1105.5 577.6L1107.0 576.1L1108.5 574.5L1110.0 573.4L1111.5 571.9L1113.0 570.8L1114.5 569.5L1116.0 568.1L1117.5 567.4L1119.0 566.8L1120.5 567.6L1122.0 568.0L1123.5 569.6L1125.0 570.9L1126.5 572.3L1128.0 573.6L1129.5 575.3L1131.0 577.3L1132.5 578.6L1134.0 578.7L1135.5 578.6L1137.0 580.8L1138.5 580.4L1140.0 581.5L1141.5 581.9L1143.0 582.6L1144.5 582.0L1146.0 582.1L1147.5 581.9L1149.0 582.4L1150.5 581.7L1152.0 582.6L1153.5 582.5L1155.0 583.0L1156.5 582.3L1158.0 582.6L1159.5 582.5L1161.0 582.5L1162.5 582.1L1164.0 582.3L1165.5 582.6L1167.0 582.8L1168.5 583.1L1170.0 582.4L1171.5 582.8L1173.0 583.0L1174.5 583.1L1176.0 582.9L1177.5 582.9L1179.0 582.7"/>
<path stroke="#ff0000" d="M117.0 680.8L118.5 681.5L120.0 680.5L121.5 680.1L123.0 681.0L124.5 681.2L126.0 681.1L127.5 681.2L129.0 680.9L130.5 680.7L132.0 680.7L133.5 680.9L135.0 680.9L136.5 681.5L138.0 681.4L139.5 680.5L141.0 681.4L142.5 681.1L144.0 681.6L145.5 681.8L147.0 681.4L148.5 680.3L150.0 681.4L151.5 680.4L153.0 681.8L154.5 680.8L156.0 681.0L157.5 681.9L159.0 680.3L160.5 681.1L162.0 680.5L163.5 680.7L165.0 680.5L166.5 681.0L168.0 680.4L169.5 680.5L171.0 680.3L172.5 678.9L174.0 679.8L175.5 678.5L177.0 677.1L178.5 676.7L180.0 676.5L181.5 675.5L183.0 673.6L184.5 673.0L186.0 672.2L187.5 671.9L189.0 671.1L190.5 671.7L192.0 671.3L193.5 672.2L195.0 673.9L196.5 675.0L198.0 675.8L199.5 677.1L201.0 677.9L202.5 679.0L204.0 679.9L205.5 680.2L207.0 680.8L208.5 680.6L210.0 680.8L211.5 680.3L213.0 681.7L214.5 681.7L216.0 682.1L217.5 681.1L219.0 681.8L220.5 681.8L222.0 681.3L223.5 682.6L225.0 682.8L226.5 681.7L228.0 682.6L229.5 683.2L231.0 681.9L232.5 683.0L234.0 683.3L235.5 683.5L237.0 682.0L238.5 682.2L240.0 682.8L241.5 683.3L243.0 682.2L244.5 682.5L246.0 682.3L247.5 683.4L249.0 682.7L250.5 683.2L252.0 683.3L253.5 683.5L255.0 683.2L256.5 683.2L258.0 683.6L259.5 683.3L261.0 682.6L262.5 682.9L264.0 683.6L265.5 683.3L267.0 683.1L268.5 683.4L270.0 684.8L271.5 683.3L273.0 683.6L274.5 683.6L276.0 683.3L277.5 684.0L279.0 683.9L280.5 683.7L282.0 682.9L283.5 684.1L285.0 683.9L286.5 683.6L288.0 682.4L289.5 683.6L291.0 683.1L292.5 683.6L294.0 683.5L295.5 683.4L297.0 684.2L298.5 683.9L300.0 684.4L301.5 683.4L303.0 683.8L304.5 684.5L306.0 684.1L307.5 683.6L309.0 683.6L310.5 683.7L312.0 684.0L313.5 684.4L315.0 684.1L316.5 684.5L318.0 684.5L319.5 684.2L321.0 684.8L322.5 684.5L324.0 684.1L325.5 684.2L327.0 684.3L328.5 684.0L330.0 683.7L331.5 684.4L333.0 684.1L334.5 684.7L336.0 684.1L337.5 684.5L339.0 684.6L340.0 684.3L340.5 684.6L342.0 684.1L343.5 684.3L345.0 684.8L346.5 684.6L348.0 684.4L349.5 684.1L351.0 684.7L352.5 685.3L354.0 683.4L355.5 684.9L357.0 684.5L358.5 684.9L360.0 684.9L361.5 683.9L363.0 685.1L364.5 684.0L366.0 684.2L367.5 684.5L369.0 684.1L370.5 684.2L372.0 679.5L373.5 671.6L373.6 671.5L375.0 677.6L376.5 684.0L376.8 683.9L378.0 684.5L379.5 683.3L381.0 682.0L382.2 680.1L382.5 681.6L384.0 682.8L385.0 684.3L385.5 683.4L387.0 683.4L388.5 684.2L389.2 683.9L390.0 681.0L391.5 669.6L392.4 662.5L393.0 666.3L394.5 677.7L395.6 685.0L396.0 683.9L397.5 684.2L399.0 684.2L400.5 683.2L401.9 680.4L402.0 680.5L403.5 683.2L404.8 683.5L405.0 685.2L406.5 684.5L408.0 684.0L409.5 684.9L410.0 685.0L411.0 684.0L412.5 684.5L414.0 685.4L415.5 685.0L417.0 684.9L418.5 685.2L420.0 684.7L421.5 684.6L423.0 685.5L424.5 684.7L426.0 684.7L427.5 685.1L429.0 684.8L430.5 684.2L432.0 685.7L433.5 684.8L435.0 685.6L436.5 685.0L438.0 684.4L439.5 685.0L441.0 683.7L441.5 683.2L442.5 681.9L444.0 678.3L445.5 676.9L447.0 660.0L448.5 643.8L448.7 641.3L450.0 656.3L451.5 672.6L451.9 677.3L453.0 678.1L454.5 678.2L456.0 678.9L457.5 678.9L459.0 678.4L460.5 678.5L462.0 679.0L463.5 678.2L465.0 677.7L466.5 678.4L468.0 678.6L469.5 679.1L471.0 678.1L472.5 677.9L474.0 678.4L475.5 678.2L477.0 678.3L478.0 678.0L478.5 678.0L480.0 676.7L481.5 676.6L483.0 675.3L484.5 674.6L486.0 671.1L487.5 667.7L488.0 667.4L489.0 658.1L490.5 644.7L490.8 641.8L492.0 649.1L493.5 658.8L493.6 659.0L495.0 659.4L496.5 659.6L496.8 659.3L498.0 660.5L499.5 663.4L500.5 663.6L501.0 664.5L502.5 663.4L504.0 662.6L505.5 660.6L506.0 660.9L507.0 658.9L508.5 657.7L510.0 655.5L511.3 654.4L511.5 654.2L513.0 653.0L514.5 651.2L516.0 648.6L517.5 642.7L519.0 636.4L520.5 630.2L522.0 603.6L523.5 598.3L523.8 597.5L525.0 596.6L526.5 597.3L526.8 596.7L528.0 604.7L528.5 608.2L529.5 621.2L530.5 632.7L531.0 635.9L532.5 643.3L533.0 645.5L534.0 646.2L535.5 648.6L537.0 650.0L537.6 651.5L538.5 652.0L540.0 652.2L541.5 654.5L543.0 655.5L544.5 655.1L546.0 657.1L547.5 658.9L549.0 659.2L550.5 660.8L550.8 661.6L552.0 662.4L553.5 663.7L555.0 665.0L556.5 665.5L558.0 668.2L559.5 668.6L561.0 670.6L562.5 670.7L564.0 672.3L565.5 673.1L567.0 673.9L568.5 675.1L570.0 676.1L571.5 677.3L573.0 678.1L574.5 678.9L576.0 680.1L577.2 681.3L577.5 680.8L579.0 681.3L580.5 681.4L582.0 680.8L583.5 681.6L585.0 681.8L586.5 681.2L588.0 681.1L589.5 680.2L590.0 680.9L591.0 680.3L592.5 680.7L594.0 679.9L595.5 678.8L595.6 679.2L597.0 680.3L598.5 680.9L600.0 682.0L601.0 682.4L601.5 682.7L603.0 683.7L604.5 683.9L606.0 685.1L607.5 684.1L609.0 685.2L610.5 685.6L611.0 686.5L612.0 686.3L613.5 686.0L615.0 686.0L616.5 686.1L618.0 685.5L619.5 684.8L621.0 684.6L622.5 683.7L624.0 683.3L625.0 683.2L625.5 682.5L627.0 682.1L628.5 681.1L630.0 680.0L631.5 679.4L633.0 680.0L634.5 679.6L636.0 680.2L637.5 680.2L639.0 680.9L640.5 681.9L642.0 682.4L643.5 684.1L645.0 684.7L646.5 685.1L648.0 685.1L649.5 685.9L651.0 686.7L652.5 687.5L654.0 687.3L655.5 687.5L657.0 688.0L658.5 688.0L660.0 688.0L661.5 687.7L663.0 688.9L664.5 688.4L666.0 688.3L667.0 688.5L667.5 688.0L669.0 687.9L670.5 688.0L672.0 689.0L673.5 688.3L675.0 689.0L676.5 688.5L678.0 688.3L679.5 688.9L681.0 688.9L682.5 689.0L684.0 690.1L685.5 689.5L687.0 689.2L688.5 689.9L690.0 689.4L691.5 690.2L693.0 689.0L694.5 690.2L696.0 689.3L697.5 689.5L699.0 690.0L700.5 689.1L702.0 689.0L703.5 689.6L704.0 689.7L705.0 689.1L706.5 690.3L708.0 689.5L709.5 689.7L711.0 689.9L712.5 690.0L714.0 690.5L715.5 689.1L717.0 690.1L718.5 690.6L720.0 690.3L721.5 690.2L723.0 689.8L724.5 690.5L726.0 690.1L727.5 690.4L729.0 689.9L730.5 690.3L732.0 690.4L733.5 689.8L735.0 691.0L736.5 690.5L738.0 690.0L739.5 690.5L741.0 690.7L742.5 690.6L744.0 690.3L745.5 690.7L747.0 690.2L748.5 690.1L750.0 691.4L751.5 691.7L753.0 691.8L754.5 692.0L756.0 691.6L757.5 690.6L759.0 690.8L760.5 691.6L762.0 691.0L763.5 691.0L765.0 691.2L766.0 691.4L766.5 690.7L768.0 691.3L769.5 691.5L771.0 690.4L772.5 691.9L774.0 691.7L775.5 691.0L777.0 692.3L778.5 691.7L780.0 691.7L781.5 692.2L783.0 690.4L784.5 691.6L786.0 692.1L787.5 692.2L789.0 691.6L790.5 691.6L792.0 691.3L793.5 691.6L795.0 691.3L796.5 690.7L798.0 691.5L799.5 691.3L801.0 691.6L802.5 691.6L804.0 691.7L805.5 691.9L807.0 691.9L808.5 691.8L810.0 691.7L811.5 692.0L813.0 691.9L814.5 692.0L816.0 692.7L817.5 692.2L819.0 691.9L820.5 691.2L822.0 691.5L823.5 690.9L825.0 692.6L826.5 692.7L828.0 692.1L829.5 692.1L831.0 692.5L832.5 692.6L834.0 691.6L835.5 692.3L837.0 692.3L838.5 691.9L840.0 693.1L841.5 692.8L843.0 692.2L844.5 692.5L846.0 692.3L847.5 692.3L849.0 692.4L850.5 693.1L852.0 692.7L853.5 692.5L855.0 692.4L856.5 692.8L858.0 692.4L859.5 692.0L861.0 692.7L862.5 693.5L864.0 692.5L865.5 692.9L867.0 692.8L868.5 693.5L870.0 693.2L871.5 692.4L873.0 693.8L874.5 693.0L876.0 692.6L877.5 692.8L879.0 693.1L880.5 693.6L882.0 693.0L883.5 692.8L885.0 693.8L886.5 693.9L888.0 693.1L889.5 693.3L891.0 693.4L892.5 693.2L894.0 692.9L895.5 693.8L897.0 692.9L898.5 692.6L900.0 693.7L901.5 694.0L903.0 693.8L904.5 693.1L906.0 693.4L907.5 693.0L909.0 693.3L910.5 692.5L912.0 693.2L913.5 694.3L915.0 693.1L916.5 694.5L918.0 693.8L919.5 692.8L921.0 694.2L922.5 693.4L924.0 694.1L925.5 693.8L926.5 693.7L927.0 693.4L928.5 691.9L930.0 691.1L931.5 690.2L931.6 691.1L933.0 691.1L934.5 692.7L936.0 693.8L936.5 694.6L937.5 693.9L939.0 694.1L940.5 693.7L942.0 695.2L943.5 693.4L945.0 694.3L946.5 694.0L948.0 694.3L949.5 694.0L951.0 694.0L952.5 694.7L954.0 694.7L955.5 694.3L957.0 694.3L958.5 694.4L960.0 694.4L961.5 694.6L963.0 694.8L964.5 694.7L966.0 693.8L967.5 694.5L969.0 694.1L970.5 694.8L972.0 694.4L973.5 694.7L975.0 694.6L976.5 695.1L978.0 695.3L979.5 694.8L981.0 694.1L982.5 694.8L984.0 695.7L985.5 694.5L987.0 694.8L988.5 696.0L990.0 695.6L991.5 695.2L993.0 695.0L994.5 694.3L996.0 695.7L997.5 695.4L999.0 694.3L1000.5 695.0L1002.0 695.0L1003.5 695.1L1005.0 694.8L1006.5 696.3L1008.0 694.8L1009.5 695.8L1011.0 695.5L1012.5 695.2L1014.0 695.5L1015.5 695.6L1017.0 695.0L1018.5 695.2L1020.0 695.9L1021.5 695.8L1023.0 695.6L1024.5 694.9L1026.0 694.7L1027.5 696.1L1029.0 696.2L1030.5 695.8L1032.0 695.7L1033.5 695.4L1035.0 695.8L1036.5 696.2L1038.0 696.0L1039.5 695.4L1041.0 695.9L1042.5 695.5L1043.5 695.7L1044.0 694.4L1045.5 691.5L1047.0 689.7L1048.0 688.7L1048.5 689.1L1050.0 692.1L1051.5 694.0L1052.5 696.0L1053.0 695.7L1054.5 696.6L1056.0 695.8L1057.5 696.0L1059.0 696.5L1060.5 696.7L1062.0 695.5L1063.5 696.7L1065.0 695.6L1066.5 695.7L1068.0 694.6L1069.5 694.3L1070.6 692.5L1071.0 693.6L1072.5 694.7L1074.0 695.7L1074.5 696.4L1075.5 697.2L1077.0 697.0L1078.5 695.9L1080.0 696.4L1081.5 696.2L1083.0 696.3L1084.5 696.1L1086.0 696.7L1087.5 696.1L1089.0 695.9L1090.5 691.1L1092.0 685.8L1093.0 682.7L1093.5 684.2L1095.0 688.9L1096.5 694.3L1097.0 696.7L1098.0 696.7L1099.5 696.9L1101.0 697.1L1102.5 695.4L1104.0 696.1L1105.5 696.5L1107.0 695.6L1108.5 696.7L1110.0 695.8L1111.5 695.9L1113.0 695.3L1114.5 695.4L1116.0 695.3L1117.5 695.3L1119.0 694.3L1120.5 694.1L1122.0 695.0L1123.5 695.5L1125.0 695.2L1126.5 695.5L1128.0 696.3L1129.5 696.3L1131.0 695.8L1132.5 696.6L1134.0 696.6L1135.5 696.9L1137.0 696.9L1138.5 697.3L1140.0 697.2L1141.5 697.4L1143.0 697.3L1144.5 697.2L1146.0 697.1L1147.5 697.5L1149.0 697.6L1150.5 698.2L1152.0 698.6L1153.5 697.2L1155.0 697.2L1156.5 698.0L1158.0 697.4L1159.5 697.7L1161.0 697.1L1162.5 697.9L1164.0 697.0L1165.5 698.1L1167.0 697.3L1168.5 697.8L1170.0 698.2L1171.5 697.4L1173.0 697.8L1174.5 698.8L1176.0 697.2L1177.5 697.9L1179.0 697.0"/>
<path stroke="#000000" d="M117.0 799.1L118.5 799.0L120.0 798.0L121.5 797.7L123.0 798.6L124.5 799.0L126.0 798.6L127.5 798.0L129.0 798.5L130.5 799.4L132.0 798.1L133.5 799.2L135.0 799.0L136.5 799.0L138.0 799.1L139.5 798.6L141.0 798.8L142.5 799.6L144.0 798.7L145.5 798.7L147.0 798.2L148.5 798.7L150.0 799.2L151.5 799.5L153.0 799.2L154.5 799.2L156.0 799.2L157.5 799.0L159.0 799.3L160.5 798.8L162.0 799.3L163.5 798.7L165.0 798.0L166.5 798.0L168.0 798.4L169.5 798.1L171.0 797.6L172.5 797.5L174.0 797.7L175.5 797.4L177.0 797.2L178.5 795.9L180.0 795.9L181.5 795.7L183.0 794.8L184.5 794.9L186.0 793.5L187.5 793.4L189.0 793.3L190.5 793.2L192.0 793.6L193.5 794.1L195.0 794.5L196.5 794.9L198.0 795.6L199.5 796.3L201.0 796.2L202.5 797.5L204.0 797.4L205.5 798.1L207.0 798.1L208.5 798.9L210.0 798.9L211.5 799.2L213.0 799.1L214.5 799.6L216.0 800.4L217.5 798.9L219.0 800.0L220.5 800.0L222.0 799.8L223.5 799.4L225.0 800.7L226.5 800.2L228.0 800.6L229.5 800.0L231.0 799.9L232.5 800.7L234.0 800.6L235.5 800.2L237.0 800.3L238.5 800.7L240.0 800.1L241.5 800.1L243.0 800.5L244.5 801.0L246.0 800.9L247.5 800.7L249.0 801.2L250.5 800.6L252.0 800.4L253.5 801.7L255.0 800.5L256.5 801.0L258.0 801.0L259.5 800.9L261.0 800.9L262.5 801.2L264.0 801.1L265.5 800.7L267.0 800.9L268.5 801.6L270.0 801.3L271.5 800.8L273.0 801.1L274.5 800.6L276.0 800.5L277.5 800.9L279.0 801.8L280.5 800.9L282.0 800.3L283.5 801.2L285.0 800.9L286.5 801.6L288.0 801.8L289.5 801.2L291.0 801.4L292.5 801.0L294.0 801.9L295.5 801.1L297.0 801.5L298.5 802.5L300.0 801.1L301.5 801.6L303.0 801.5L304.5 801.8L306.0 801.8L307.5 802.3L309.0 801.9L310.5 801.9L312.0 801.2L313.5 801.9L315.0 801.2L316.5 802.3L318.0 801.8L319.5 802.2L321.0 801.6L322.5 802.0L324.0 801.9L325.5 802.2L327.0 801.9L328.5 801.7L330.0 801.8L331.5 801.7L333.0 801.6L334.5 801.5L336.0 801.4L337.5 802.9L339.0 801.8L340.0 801.7L340.5 802.6L342.0 802.2L343.5 801.9L345.0 802.3L346.5 802.6L348.0 801.3L349.5 802.2L351.0 801.7L352.5 801.9L354.0 801.1L355.5 801.9L357.0 801.6L358.5 799.9L360.0 801.5L361.5 801.4L363.0 800.1L364.5 800.8L366.0 800.5L367.5 800.4L369.0 799.6L370.5 799.9L372.0 792.3L373.5 784.2L373.6 783.7L375.0 789.5L376.5 797.6L376.8 798.2L378.0 798.8L379.5 798.4L381.0 796.9L382.2 793.3L382.5 794.7L384.0 797.2L385.0 799.4L385.5 799.7L387.0 799.2L388.5 800.0L389.2 798.9L390.0 793.5L391.5 780.9L392.4 774.1L393.0 779.3L394.5 789.7L395.6 799.4L396.0 798.8L397.5 798.9L399.0 799.9L400.5 795.5L401.9 792.3L402.0 791.8L403.5 795.7L404.8 799.6L405.0 798.8L406.5 800.2L408.0 800.5L409.5 800.4L410.0 799.6L411.0 799.9L412.5 799.6L414.0 800.5L415.5 800.6L417.0 800.0L418.5 800.1L420.0 800.2L421.5 800.4L423.0 799.6L424.5 799.6L426.0 800.3L427.5 800.2L429.0 800.1L430.5 799.9L432.0 800.2L433.5 800.0L435.0 799.5L436.5 800.5L438.0 800.2L439.5 797.9L441.0 796.3L441.5 795.5L442.5 793.4L444.0 791.0L445.5 788.2L447.0 772.2L448.5 756.2L448.7 753.9L450.0 767.5L451.5 784.5L451.9 788.7L453.0 789.0L454.5 790.7L456.0 790.5L457.5 791.4L459.0 790.2L460.5 791.0L462.0 790.5L463.5 791.2L465.0 790.9L466.5 790.4L468.0 790.9L469.5 791.2L471.0 791.2L472.5 791.2L474.0 790.3L475.5 791.4L477.0 790.1L478.0 790.3L478.5 789.4L480.0 789.1L481.5 787.6L483.0 787.4L484.5 785.7L486.0 784.3L487.5 780.9L488.0 780.2L489.0 770.8L490.5 756.4L490.8 753.8L492.0 761.4L493.5 770.1L493.6 771.1L495.0 771.5L496.5 772.1L496.8 771.0L498.0 773.2L499.5 774.7L500.5 776.6L501.0 776.2L502.5 774.5L504.0 773.5L505.5 773.8L506.0 773.3L507.0 771.7L508.5 770.4L510.0 768.4L511.3 767.1L511.5 766.5L513.0 765.0L514.5 763.6L516.0 761.6L517.5 755.6L519.0 749.1L520.5 743.5L522.0 716.9L523.5 711.5L523.8 710.7L525.0 710.1L526.5 710.7L526.8 709.9L528.0 718.8L528.5 721.5L529.5 733.3L530.5 744.9L531.0 747.5L532.5 755.4L533.0 757.5L534.0 759.1L535.5 760.6L537.0 763.0L537.6 763.9L538.5 764.6L540.0 764.5L541.5 765.7L543.0 768.1L544.5 769.0L546.0 770.3L547.5 771.2L549.0 772.2L550.5 774.2L550.8 773.9L552.0 774.8L553.5 775.2L555.0 777.0L556.5 778.7L558.0 779.6L559.5 781.0L561.0 781.7L562.5 783.3L564.0 783.9L565.5 785.1L567.0 786.6L568.5 787.9L570.0 788.0L571.5 789.0L573.0 790.0L574.5 791.0L576.0 792.1L577.2 793.3L577.5 793.1L579.0 793.2L580.5 793.7L582.0 793.1L583.5 794.1L585.0 795.3L586.5 793.6L588.0 793.3L589.5 793.3L590.0 793.5L591.0 792.6L592.5 791.9L594.0 792.7L595.5 790.5L595.6 791.1L597.0 792.1L598.5 792.4L600.0 795.0L601.0 795.9L601.5 794.5L603.0 795.6L604.5 796.1L606.0 797.1L607.5 797.2L609.0 798.0L610.5 798.4L611.0 798.3L612.0 798.4L613.5 799.1L615.0 798.5L616.5 798.7L618.0 798.3L619.5 798.5L621.0 798.7L622.5 797.8L624.0 797.3L625.0 796.9L625.5 797.6L627.0 796.4L628.5 796.6L630.0 797.2L631.5 795.9L633.0 796.5L634.5 795.7L636.0 795.9L637.5 796.6L639.0 796.5L640.5 796.5L642.0 798.2L643.5 798.6L645.0 799.7L646.5 801.1L648.0 801.1L649.5 800.6L651.0 802.0L652.5 801.4L654.0 801.6L655.5 803.9L657.0 802.8L658.5 802.5L660.0 803.7L661.5 803.8L663.0 804.3L664.5 804.2L666.0 804.4L667.0 805.0L667.5 804.6L669.0 804.4L670.5 805.1L672.0 804.8L673.5 805.6L675.0 805.3L676.5 805.3L678.0 805.3L679.5 805.9L681.0 806.2L682.5 805.7L684.0 805.0L685.5 806.4L687.0 805.8L688.5 806.6L690.0 806.1L691.5 806.7L693.0 806.5L694.5 806.4L696.0 806.3L697.5 806.9L699.0 807.1L700.5 806.4L702.0 806.2L703.5 807.5L704.0 808.4L705.0 807.1L706.5 807.4L708.0 807.0L709.5 807.0L711.0 808.3L712.5 806.9L714.0 807.8L715.5 807.4L717.0 808.0L718.5 808.5L720.0 807.9L721.5 807.7L723.0 808.4L724.5 807.8L726.0 807.1L727.5 808.6L729.0 807.8L730.5 808.2L732.0 809.2L733.5 808.6L735.0 808.4L736.5 809.0L738.0 807.9L739.5 807.6L741.0 807.8L742.5 808.4L744.0 808.5L745.5 808.2L747.0 809.5L748.5 808.9L750.0 808.7L751.5 808.3L753.0 808.6L754.5 808.8L756.0 808.6L757.5 810.1L759.0 809.6L760.5 809.1L762.0 808.9L763.5 808.1L765.0 809.4L766.0 808.7L766.5 809.5L768.0 809.2L769.5 808.4L771.0 809.1L772.5 809.0L774.0 809.0L775.5 809.1L777.0 809.2L778.5 809.1L780.0 809.6L781.5 809.5L783.0 809.2L784.5 809.2L786.0 809.2L787.5 809.2L789.0 809.3L790.5 809.5L792.0 809.3L793.5 808.6L795.0 809.5L796.5 809.1L798.0 809.5L799.5 810.7L801.0 810.0L802.5 808.5L804.0 808.8L805.5 810.1L807.0 809.3L808.5 808.9L810.0 808.9L811.5 809.6L813.0 809.4L814.5 809.8L816.0 809.6L817.5 809.8L819.0 809.6L820.5 809.5L822.0 810.2L823.5 810.6L825.0 809.5L826.5 809.9L828.0 810.9L829.5 809.5L831.0 809.5L832.5 810.3L834.0 810.5L835.5 810.1L837.0 810.6L838.5 810.1L840.0 810.3L841.5 810.2L843.0 810.4L844.5 810.2L846.0 810.9L847.5 810.6L849.0 811.1L850.5 810.3L852.0 810.0L853.5 810.1L855.0 810.2L856.5 810.6L858.0 810.3L859.5 810.6L861.0 810.7L862.5 810.0L864.0 809.9L865.5 811.2L867.0 810.3L868.5 811.5L870.0 810.5L871.5 810.0L873.0 810.2L874.5 810.4L876.0 811.9L877.5 809.9L879.0 809.7L880.5 810.4L882.0 810.9L883.5 811.9L885.0 811.4L886.5 810.5L888.0 811.7L889.5 811.6L891.0 810.7L892.5 811.3L894.0 811.2L895.5 811.0L897.0 810.9L898.5 810.8L900.0 811.3L901.5 810.9L903.0 811.6L904.5 811.5L906.0 810.5L907.5 811.4L909.0 811.2L910.5 811.7L912.0 811.2L913.5 811.9L915.0 811.8L916.5 811.8L918.0 811.7L919.5 810.8L921.0 811.4L922.5 812.0L924.0 811.9L925.5 811.8L926.5 811.5L927.0 811.1L928.5 809.2L930.0 807.7L931.5 807.1L931.6 807.5L933.0 808.3L934.5 809.6L936.0 811.2L936.5 812.3L937.5 811.5L939.0 811.7L940.5 811.9L942.0 812.3L943.5 812.0L945.0 811.6L946.5 811.6L948.0 811.4L949.5 811.8L951.0 812.4L952.5 812.1L954.0 811.8L955.5 811.5L957.0 811.9L958.5 812.4L960.0 812.4L961.5 812.3L963.0 812.5L964.5 812.7L966.0 812.3L967.5 812.5L969.0 811.4L970.5 812.6L972.0 812.1L973.5 812.4L975.0 811.9L976.5 812.2L978.0 811.9L979.5 812.4L981.0 812.0L982.5 812.9L984.0 812.3L985.5 812.6L987.0 812.2L988.5 812.5L990.0 812.3L991.5 812.2L993.0 812.9L994.5 812.3L996.0 812.2L997.5 812.5L999.0 813.7L1000.5 813.2L1002.0 812.9L1003.5 812.9L1005.0 813.0L1006.5 813.0L1008.0 813.9L1009.5 813.6L1011.0 813.0L1012.5 812.2L1014.0 812.5L1015.5 813.1L1017.0 812.8L1018.5 813.2L1020.0 812.9L1021.5 813.3L1023.0 813.3L1024.5 812.9L1026.0 812.6L1027.5 813.0L1029.0 812.9L1030.5 812.8L1032.0 813.3L1033.5 813.8L1035.0 813.1L1036.5 813.2L1038.0 812.9L1039.5 813.5L1041.0 813.5L1042.5 813.5L1043.5 814.1L1044.0 812.6L1045.5 809.9L1047.0 806.3L1048.0 804.7L1048.5 805.1L1050.0 808.9L1051.5 812.2L1052.5 813.2L1053.0 813.2L1054.5 813.7L1056.0 813.7L1057.5 814.1L1059.0 812.5L1060.5 813.5L1062.0 814.0L1063.5 813.9L1065.0 813.3L1066.5 814.1L1068.0 812.4L1069.5 810.9L1070.6 809.8L1071.0 810.2L1072.5 812.1L1074.0 812.8L1074.5 812.4L1075.5 814.2L1077.0 812.9L1078.5 814.1L1080.0 814.0L1081.5 814.2L1083.0 813.6L1084.5 814.4L1086.0 814.0L1087.5 813.9L1089.0 814.1L1090.5 807.1L1092.0 801.4L1093.0 795.9L1093.5 798.5L1095.0 805.1L1096.5 812.1L1097.0 814.3L1098.0 814.1L1099.5 814.3L1101.0 814.3L1102.5 814.2L1104.0 814.6L1105.5 813.9L1107.0 813.8L1108.5 813.9L1110.0 813.4L1111.5 813.5L1113.0 813.4L1114.5 812.0L1116.0 812.9L1117.5 812.5L1119.0 812.0L1120.5 812.1L1122.0 812.1L1123.5 813.3L1125.0 813.6L1126.5 813.3L1128.0 813.5L1129.5 813.3L1131.0 814.9L1132.5 814.9L1134.0 814.5L1135.5 814.2L1137.0 814.6L1138.5 814.5L1140.0 814.3L1141.5 814.4L1143.0 814.6L1144.5 814.7L1146.0 815.3L1147.5 814.7L1149.0 815.3L1150.5 815.2L1152.0 815.6L1153.5 815.8L1155.0 816.3L1156.5 815.7L1158.0 815.1L1159.5 815.2L1161.0 816.6L1162.5 814.9L1164.0 815.4L1165.5 815.9L1167.0 815.4L1168.5 815.7L1170.0 816.3L1171.5 815.9L1173.0 815.5L1174.5 815.8L1176.0 815.7L1177.5 815.9L1179.0 815.9"/>
</g>
<rect x="184.4" y="177.4" width="5.8" height="8.4" rx="2.2" fill="#ff0000"/>
<rect x="184.4" y="210.2" width="5.8" height="8.4" rx="2.2" fill="#ff0000"/>
<rect x="184.4" y="243.1" width="5.8" height="8.4" rx="2.2" fill="#ff0000"/>
<rect x="184.4" y="275.9" width="5.8" height="8.4" rx="2.2" fill="#ff0000"/>
<rect x="184.4" y="308.8" width="5.8" height="8.4" rx="2.2" fill="#ff0000"/>
<rect x="184.4" y="341.7" width="5.8" height="8.4" rx="2.2" fill="#ff0000"/>
<rect x="184.4" y="374.5" width="5.8" height="8.4" rx="2.2" fill="#ff0000"/>
<rect x="184.4" y="407.4" width="5.8" height="8.4" rx="2.2" fill="#ff0000"/>
<rect x="184.4" y="440.2" width="5.8" height="8.4" rx="2.2" fill="#ff0000"/>
<rect x="184.4" y="473.1" width="5.8" height="8.4" rx="2.2" fill="#ff0000"/>
<rect x="184.4" y="505.9" width="5.8" height="8.4" rx="2.2" fill="#ff0000"/>
<rect x="184.4" y="538.8" width="5.8" height="8.4" rx="2.2" fill="#ff0000"/>
<rect x="184.4" y="571.6" width="5.8" height="8.4" rx="2.2" fill="#ff0000"/>
<rect x="184.4" y="604.4" width="5.8" height="8.4" rx="2.2" fill="#ff0000"/>
<rect x="184.4" y="637.3" width="5.8" height="8.4" rx="2.2" fill="#ff0000"/>
<rect x="184.4" y="670.1" width="5.8" height="8.4" rx="2.2" fill="#ff0000"/>
<rect x="184.4" y="703.0" width="5.8" height="8.4" rx="2.2" fill="#ff0000"/>
<rect x="184.4" y="735.9" width="5.8" height="8.4" rx="2.2" fill="#ff0000"/>
<rect x="184.4" y="768.7" width="5.8" height="8.4" rx="2.2" fill="#ff0000"/>
<rect x="184.4" y="801.5" width="5.8" height="8.4" rx="2.2" fill="#ff0000"/>
<rect x="627.3" y="83.2" width="5.8" height="8.4" rx="2.2" fill="#ff0000"/>
<rect x="627.3" y="116.0" width="5.8" height="8.4" rx="2.2" fill="#ff0000"/>
<rect x="627.3" y="148.8" width="5.8" height="8.4" rx="2.2" fill="#ff0000"/>
<rect x="627.3" y="181.6" width="5.8" height="8.4" rx="2.2" fill="#ff0000"/>
<rect x="627.3" y="214.4" width="5.8" height="8.4" rx="2.2" fill="#ff0000"/>
<rect x="627.3" y="247.2" width="5.8" height="8.4" rx="2.2" fill="#ff0000"/>
<rect x="627.3" y="280.0" width="5.8" height="8.4" rx="2.2" fill="#ff0000"/>
<rect x="627.3" y="312.8" width="5.8" height="8.4" rx="2.2" fill="#ff0000"/>
<rect x="627.3" y="345.6" width="5.8" height="8.4" rx="2.2" fill="#ff0000"/>
<rect x="627.3" y="378.4" width="5.8" height="8.4" rx="2.2" fill="#ff0000"/>
<rect x="627.3" y="411.2" width="5.8" height="8.4" rx="2.2" fill="#ff0000"/>
<rect x="627.3" y="444.0" width="5.8" height="8.4" rx="2.2" fill="#ff0000"/>
<rect x="627.3" y="476.8" width="5.8" height="8.4" rx="2.2" fill="#ff0000"/>
<rect x="627.3" y="509.6" width="5.8" height="8.4" rx="2.2" fill="#ff0000"/>
<rect x="627.3" y="542.4" width="5.8" height="8.4" rx="2.2" fill="#ff0000"/>
<rect x="627.3" y="575.2" width="5.8" height="8.4" rx="2.2" fill="#ff0000"/>
<rect x="627.3" y="608.0" width="5.8" height="8.4" rx="2.2" fill="#ff0000"/>
<rect x="627.3" y="640.8" width="5.8" height="8.4" rx="2.2" fill="#ff0000"/>
<rect x="627.3" y="673.6" width="5.8" height="8.4" rx="2.2" fill="#ff0000"/>
<rect x="627.3" y="706.4" width="5.8" height="8.4" rx="2.2" fill="#ff0000"/>
<rect x="627.3" y="739.2" width="5.8" height="8.4" rx="2.2" fill="#ff0000"/>
<rect x="627.3" y="772.0" width="5.8" height="8.4" rx="2.2" fill="#ff0000"/>
<rect x="627.3" y="804.8" width="5.8" height="8.4" rx="2.2" fill="#ff0000"/>
<path d="M115.5 23.30H1180.4" stroke="#cfcfcf" stroke-width="1.4" fill="none"/>
<path d="M114.35 20.1V833.5" stroke="#9c9c9c" stroke-width="2.3" fill="none"/>
<path d="M1181.65 20.1V847.5" stroke="#9c9c9c" stroke-width="2.5" fill="none"/>
<path d="M115.5 829.40H1180.4" stroke="#9c9c9c" stroke-width="2.8" fill="none"/>
<path d="M113.2 21.35H1180.4" stroke="#262626" stroke-width="2.5" fill="none"/>
<path d="M116.75 20.1V847.5" stroke="#262626" stroke-width="2.5" fill="none"/>
<path d="M1179.10 20.1V847.5" stroke="#262626" stroke-width="2.6" fill="none"/>
<path d="M113.2 832.15H1182.9" stroke="#262626" stroke-width="2.7" fill="none"/>
<path d="M344.8 215.20H582.1" stroke="#a8a8a8" stroke-width="2.6" fill="none"/>
<path d="M581.00 213.9V828.0" stroke="#a8a8a8" stroke-width="2.2" fill="none"/>
<path d="M342.0 212.40H584.9" stroke="#111" stroke-width="3.0" fill="none"/>
<path d="M343.40 210.9V829.8" stroke="#111" stroke-width="2.8" fill="none"/>
<path d="M583.50 210.9V829.8" stroke="#111" stroke-width="2.8" fill="none"/>
<path d="M342.0 828.90H584.9" stroke="#111" stroke-width="2.4" fill="none"/>
<path d="M116.8 832V847.5M204.2 832V841.5M292.8 832V847.5M381.4 832V841.5M470.0 832V847.5M558.6 832V841.5M647.2 832V847.5M735.8 832V841.5M824.4 832V847.5M913.0 832V841.5M1001.6 832V847.5M1090.2 832V841.5M1179.1 832V847.5" stroke="#262626" stroke-width="2.9" fill="none"/>
<g fill="none" stroke-width="5.1" stroke-linejoin="round">
<path stroke="#ff00ff" d="M1325.8 161.3L1327.8 161.6L1329.8 160.3L1331.8 159.1L1333.8 158.6L1335.8 161.2L1337.8 160.7L1339.8 159.7L1341.8 159.6L1343.8 162.1L1345.8 162.3L1347.8 160.2L1349.8 161.7L1351.8 165.1L1353.8 161.2L1355.8 155.7L1357.8 161.7L1359.8 158.0L1361.8 160.8L1363.8 160.4L1365.8 162.7L1367.8 160.0L1369.8 160.2L1371.8 159.4L1373.8 160.5L1375.8 161.2L1377.8 160.0L1379.8 161.3L1381.8 158.4L1383.8 162.0L1385.8 160.9L1387.8 161.4L1389.8 161.9L1391.8 161.3L1393.8 161.5L1395.8 158.3L1397.8 161.5L1399.8 163.3L1401.8 159.1L1403.8 161.5L1405.8 159.0L1407.8 162.2L1409.8 159.6L1411.8 159.7L1413.8 160.8L1415.8 160.3L1417.8 161.8L1419.8 161.3L1421.8 162.2L1423.8 165.0L1425.8 159.7L1427.8 161.6L1429.8 159.0L1431.8 159.4L1433.8 161.2L1435.8 160.5L1437.8 163.5L1439.8 160.8L1441.8 161.0L1443.8 163.9L1445.8 163.3L1447.8 161.3L1449.8 160.4L1451.8 160.1L1453.8 161.4L1455.8 160.9L1457.8 161.1L1459.8 160.6L1461.8 162.5L1463.8 161.7L1465.8 160.0L1467.8 160.4L1469.8 161.8L1471.8 160.7L1473.8 160.5L1475.8 159.7L1477.8 157.9L1479.8 159.2L1481.8 160.5L1483.8 159.1L1485.8 160.1L1487.8 159.9L1489.8 162.6L1491.8 161.0L1493.8 160.8L1495.8 160.1L1497.8 158.7L1499.8 159.4L1501.8 159.1L1503.8 158.3L1505.8 161.2L1507.8 159.1L1509.8 158.3L1511.8 160.5L1513.8 158.1L1515.8 157.6L1517.8 159.7L1519.8 157.5L1521.8 158.6L1523.8 155.1L1525.8 157.9L1527.8 158.3L1529.8 159.0L1531.8 155.8L1533.8 153.8L1535.8 157.0L1537.8 156.6L1539.8 158.2L1541.8 156.9L1543.8 156.6L1545.8 154.0L1547.8 156.2L1549.8 154.8L1551.8 157.1L1553.8 156.2L1555.8 154.1L1557.8 155.9L1559.8 156.2L1561.8 155.1L1563.8 155.7L1565.8 154.0L1567.8 154.8L1569.8 154.6L1571.8 153.2L1573.8 152.0L1575.8 152.2L1577.8 155.7L1579.8 153.4L1581.8 153.1L1583.8 153.5L1585.8 153.5L1587.8 151.4L1589.8 154.7L1591.8 153.3L1593.8 152.3L1595.8 152.8L1597.8 152.2L1599.8 150.5L1601.8 152.7L1603.8 149.9L1605.8 149.6L1607.8 151.0L1609.8 148.5L1611.8 149.7L1613.8 147.8L1615.8 146.2L1617.8 147.0L1619.8 148.0L1621.8 146.5L1623.8 145.8L1625.8 145.6L1627.8 144.0L1629.8 143.8L1631.8 142.5L1633.8 145.5L1635.8 142.4L1637.8 143.5L1639.8 142.1L1641.8 146.4L1643.8 143.8L1645.8 142.8L1647.8 140.6L1649.8 140.0L1651.8 139.6L1653.8 141.9L1655.8 142.6L1657.8 142.2L1659.8 141.1L1661.8 138.1L1663.8 137.7L1665.8 135.3L1667.8 134.9L1669.8 131.5L1671.8 131.2L1673.8 130.1L1675.8 130.7L1677.8 128.2L1679.8 125.1L1681.8 123.3L1683.8 122.9L1685.8 121.8L1687.8 124.1L1689.8 117.0L1691.8 113.2L1693.8 112.0L1695.8 110.4L1697.8 107.1L1699.8 103.4L1701.8 101.8L1703.8 98.4L1705.8 95.4L1707.8 93.2L1709.8 90.1L1711.8 87.4L1713.8 84.7L1715.8 82.2L1717.8 78.9L1719.8 77.1L1721.8 73.3L1723.8 70.7L1725.8 68.5L1727.8 66.3L1729.8 65.2L1731.8 61.6L1733.8 59.6L1735.8 56.5L1737.8 55.5L1739.8 53.9L1741.8 52.1L1743.8 51.3L1745.8 50.6L1747.8 48.8L1749.8 49.1L1751.8 48.1L1753.8 46.7L1755.8 46.8L1757.8 47.1L1759.8 45.9L1761.8 47.0L1763.8 48.2L1765.8 48.3L1767.8 50.1L1769.8 50.3L1771.8 51.9L1773.8 53.9L1775.8 53.7L1777.8 55.2L1779.8 57.4L1781.8 58.2L1783.8 59.7L1785.8 62.1L1787.8 63.8L1789.8 66.9L1791.8 68.5L1793.8 71.3L1795.8 73.4L1797.8 76.0L1799.8 77.8L1801.8 80.4L1803.8 83.5L1805.8 86.1L1807.8 89.0L1809.8 92.4L1811.8 95.5L1813.8 97.8L1815.8 100.8L1817.8 102.8L1819.8 106.5L1821.8 109.7L1823.8 112.3L1825.8 114.4L1827.8 117.6L1829.8 122.7L1831.8 120.8L1833.8 123.3L1835.8 125.0L1837.8 128.0L1839.8 129.7L1841.8 131.1L1843.8 131.2L1845.8 134.6L1847.8 136.6L1849.8 144.5L1851.8 140.9L1853.8 141.2L1855.8 142.6L1857.8 141.5L1859.8 144.5L1861.8 146.2L1863.8 145.9L1865.8 149.5L1867.8 147.9L1869.8 146.3L1871.8 147.3L1873.8 149.4L1875.8 149.2L1877.8 148.8L1879.8 148.1L1881.8 150.7L1883.8 150.4L1885.8 153.7L1887.8 151.4L1889.8 150.6L1891.8 153.1L1893.8 154.0L1895.8 155.5L1897.8 155.9L1899.8 152.4L1901.8 155.8L1903.8 156.5L1905.8 157.8L1907.8 157.0L1909.8 157.5L1911.8 156.1L1913.8 158.4L1915.8 156.8L1917.8 163.9L1919.8 158.7L1921.8 159.6L1923.8 159.2L1925.8 160.2L1927.8 160.2L1929.8 161.7L1931.8 159.3L1933.8 157.5L1935.8 160.0L1937.8 160.0L1939.8 161.4L1941.8 162.7L1943.8 159.5L1945.8 167.2L1947.8 161.0L1949.8 157.6L1951.8 160.4L1953.8 157.8L1955.8 160.6L1957.8 160.1L1959.8 160.7L1961.8 164.9L1963.8 160.8L1965.8 163.4L1967.8 163.1L1969.8 163.1L1971.8 159.8L1973.8 161.9L1975.8 161.9L1977.8 164.0L1979.8 160.7L1981.8 161.9L1983.8 161.4L1985.8 163.8L1987.8 163.0L1989.8 161.4L1991.8 164.9L1993.8 162.1L1995.8 164.0L1997.8 163.4L1999.8 164.7L2001.8 162.2L2003.8 161.9L2005.8 161.9L2007.8 164.9L2009.8 164.1L2011.8 163.4L2013.8 163.0L2015.8 164.3L2017.8 168.0L2019.8 165.6L2021.8 163.8L2023.8 167.2L2025.8 164.9L2027.8 165.2L2029.8 165.4L2031.8 167.0L2033.8 164.9L2035.8 171.0L2037.8 166.2L2039.8 164.8L2041.8 169.2L2043.8 167.5L2045.8 164.6L2047.8 166.5L2049.8 164.5L2051.8 166.7L2053.8 167.1L2055.8 166.4L2057.8 166.9L2059.8 165.9L2061.8 167.6L2063.8 168.5L2065.8 166.2L2067.8 166.7L2069.8 167.8L2071.8 168.4L2073.8 168.9L2075.8 169.1L2077.8 168.0L2079.8 168.6L2081.8 167.7L2083.8 168.2L2085.8 167.9L2087.8 166.6L2089.8 168.6L2091.8 168.1L2093.8 167.2L2095.8 169.1L2097.8 168.9L2099.8 169.0L2101.8 169.8L2103.8 169.1L2105.8 169.1L2107.8 168.3L2109.8 169.4L2111.8 168.5L2113.8 168.9L2115.8 168.3L2117.8 171.2L2119.8 169.9L2121.8 167.7L2123.8 167.9L2125.8 166.5L2127.8 170.1L2129.8 170.5L2131.8 168.2L2133.8 170.9L2135.8 171.1L2137.8 171.3L2139.8 170.8L2141.8 170.1L2143.8 168.0L2145.8 167.9L2147.8 168.2L2149.8 169.8L2151.8 167.5L2153.8 169.0L2155.8 171.9L2157.8 170.6L2159.8 170.2L2161.8 168.9L2163.8 168.0L2165.8 170.2L2167.8 166.6L2169.8 170.5L2171.8 170.3L2173.8 167.9L2175.8 170.1L2177.8 169.3L2179.8 171.2L2181.8 170.3L2183.8 171.8L2185.8 168.7L2187.8 172.3L2189.8 171.1L2191.8 171.7L2193.8 172.3L2195.8 172.1L2197.8 165.6L2199.8 170.4L2201.8 171.7L2203.8 171.6L2205.8 171.7L2207.8 170.5L2209.8 168.8L2211.8 169.7L2213.8 167.1L2215.8 169.1L2217.8 167.1L2219.8 169.9L2221.8 178.4L2223.8 171.5L2225.8 170.1L2227.8 169.3L2229.8 170.5L2231.8 171.0L2233.8 172.8L2235.8 167.7L2237.8 169.3L2239.8 171.3L2241.8 169.3L2243.8 172.0L2245.8 174.1L2247.8 171.9L2249.8 171.7L2251.8 171.6L2253.8 172.5L2255.8 171.2L2257.8 172.1L2259.8 171.2L2261.8 174.8L2263.8 171.5L2265.8 171.8L2267.8 171.4L2269.8 170.6L2271.8 172.3L2273.8 173.4L2275.8 171.5L2277.8 170.1L2279.8 170.8L2281.8 171.6L2283.8 171.2L2285.8 172.0L2287.8 170.9L2289.8 170.6L2291.8 174.7L2293.8 174.5L2295.8 173.2L2297.8 175.6L2299.8 168.6L2301.8 171.3L2303.8 170.0L2305.8 173.0L2307.8 174.1L2309.8 172.2L2311.8 172.0L2313.8 174.0L2315.8 174.7L2317.8 174.9L2319.8 173.3L2321.8 171.6L2323.8 173.8L2325.8 171.0L2327.8 172.8L2329.8 172.0L2331.8 169.8L2333.8 169.2L2335.8 174.3L2337.8 172.0L2339.8 170.9L2341.8 172.9L2343.8 171.0L2345.8 172.8L2347.8 173.9L2349.8 180.0L2351.8 177.8L2353.8 173.3L2355.8 172.1L2357.8 174.9L2359.8 174.2L2361.8 174.7L2363.8 173.5L2365.8 172.0L2367.8 169.1L2369.8 174.2L2371.8 173.8L2373.8 174.1L2375.8 175.0L2377.8 175.0"/>
<path stroke="#00ff00" d="M1325.8 356.2L1327.8 356.4L1329.8 354.8L1331.8 357.0L1333.8 356.0L1335.8 358.3L1337.8 357.0L1339.8 356.4L1341.8 355.0L1343.8 356.9L1345.8 354.9L1347.8 356.1L1349.8 357.3L1351.8 356.9L1353.8 356.1L1355.8 354.2L1357.8 356.3L1359.8 355.9L1361.8 355.0L1363.8 353.4L1365.8 356.1L1367.8 350.9L1369.8 354.3L1371.8 352.8L1373.8 355.3L1375.8 352.9L1377.8 351.2L1379.8 353.5L1381.8 359.4L1383.8 351.1L1385.8 351.1L1387.8 354.1L1389.8 352.0L1391.8 352.1L1393.8 353.7L1395.8 352.4L1397.8 356.1L1399.8 352.1L1401.8 355.5L1403.8 353.6L1405.8 351.9L1407.8 351.2L1409.8 350.8L1411.8 352.4L1413.8 353.0L1415.8 351.7L1417.8 351.9L1419.8 352.0L1421.8 351.5L1423.8 351.3L1425.8 350.7L1427.8 351.6L1429.8 352.1L1431.8 351.4L1433.8 349.7L1435.8 352.3L1437.8 351.5L1439.8 352.9L1441.8 353.6L1443.8 351.3L1445.8 351.6L1447.8 349.4L1449.8 349.2L1451.8 351.2L1453.8 350.6L1455.8 353.3L1457.8 350.6L1459.8 349.6L1461.8 347.1L1463.8 349.5L1465.8 346.8L1467.8 355.6L1469.8 349.3L1471.8 348.4L1473.8 354.6L1475.8 348.5L1477.8 351.8L1479.8 351.1L1481.8 351.5L1483.8 350.8L1485.8 351.3L1487.8 350.1L1489.8 352.1L1491.8 349.7L1493.8 351.9L1495.8 348.8L1497.8 352.3L1499.8 352.7L1501.8 350.3L1503.8 347.8L1505.8 349.5L1507.8 349.6L1509.8 350.9L1511.8 350.9L1513.8 350.9L1515.8 349.4L1517.8 349.0L1519.8 349.0L1521.8 349.1L1523.8 345.5L1525.8 349.4L1527.8 351.2L1529.8 350.5L1531.8 351.1L1533.8 353.3L1535.8 348.4L1537.8 348.8L1539.8 350.0L1541.8 347.8L1543.8 345.5L1545.8 349.6L1547.8 348.6L1549.8 347.6L1551.8 348.9L1553.8 349.7L1555.8 347.3L1557.8 344.8L1559.8 348.4L1561.8 346.4L1563.8 351.8L1565.8 347.2L1567.8 347.8L1569.8 345.5L1571.8 346.7L1573.8 344.7L1575.8 347.1L1577.8 344.3L1579.8 347.5L1581.8 345.9L1583.8 344.7L1585.8 344.7L1587.8 345.6L1589.8 345.1L1591.8 344.4L1593.8 342.5L1595.8 343.7L1597.8 342.4L1599.8 344.2L1601.8 342.7L1603.8 341.2L1605.8 342.5L1607.8 341.7L1609.8 340.5L1611.8 341.8L1613.8 340.5L1615.8 341.9L1617.8 339.4L1619.8 337.4L1621.8 337.7L1623.8 336.4L1625.8 338.1L1627.8 338.5L1629.8 335.5L1631.8 333.6L1633.8 334.6L1635.8 335.5L1637.8 333.9L1639.8 332.6L1641.8 328.4L1643.8 330.9L1645.8 332.4L1647.8 328.5L1649.8 330.0L1651.8 327.8L1653.8 326.5L1655.8 323.7L1657.8 322.1L1659.8 323.1L1661.8 322.4L1663.8 320.7L1665.8 320.1L1667.8 320.5L1669.8 318.9L1671.8 319.1L1673.8 320.0L1675.8 319.7L1677.8 317.9L1679.8 315.4L1681.8 314.3L1683.8 313.1L1685.8 310.9L1687.8 306.4L1689.8 303.2L1691.8 300.5L1693.8 296.7L1695.8 292.0L1697.8 287.4L1699.8 282.8L1701.8 276.9L1703.8 271.1L1705.8 265.4L1707.8 258.6L1709.8 252.8L1711.8 246.6L1713.8 242.0L1715.8 237.4L1717.8 232.5L1719.8 227.7L1721.8 223.0L1723.8 217.7L1725.8 212.9L1727.8 208.1L1729.8 203.3L1731.8 199.5L1733.8 195.4L1735.8 192.3L1737.8 187.9L1739.8 185.8L1741.8 183.8L1743.8 182.8L1745.8 179.7L1747.8 179.0L1749.8 177.2L1751.8 176.7L1753.8 177.6L1755.8 177.7L1757.8 177.1L1759.8 177.3L1761.8 178.0L1763.8 179.7L1765.8 180.2L1767.8 181.6L1769.8 183.5L1771.8 186.9L1773.8 189.5L1775.8 191.6L1777.8 194.5L1779.8 197.3L1781.8 202.1L1783.8 205.3L1785.8 209.6L1787.8 214.7L1789.8 219.1L1791.8 224.3L1793.8 229.6L1795.8 233.9L1797.8 239.6L1799.8 246.5L1801.8 251.6L1803.8 257.5L1805.8 262.9L1807.8 268.1L1809.8 273.4L1811.8 277.7L1813.8 283.5L1815.8 287.9L1817.8 292.1L1819.8 296.9L1821.8 300.4L1823.8 303.7L1825.8 306.2L1827.8 309.4L1829.8 311.4L1831.8 311.9L1833.8 310.2L1835.8 314.7L1837.8 315.0L1839.8 315.4L1841.8 316.9L1843.8 318.5L1845.8 318.5L1847.8 322.2L1849.8 324.3L1851.8 326.7L1853.8 322.0L1855.8 327.0L1857.8 326.1L1859.8 328.0L1861.8 329.8L1863.8 327.6L1865.8 329.7L1867.8 331.0L1869.8 333.2L1871.8 332.6L1873.8 335.0L1875.8 336.4L1877.8 336.9L1879.8 336.5L1881.8 339.1L1883.8 336.7L1885.8 342.0L1887.8 342.6L1889.8 342.7L1891.8 342.2L1893.8 342.4L1895.8 345.4L1897.8 346.5L1899.8 347.5L1901.8 345.7L1903.8 345.7L1905.8 347.7L1907.8 347.2L1909.8 347.7L1911.8 348.5L1913.8 348.7L1915.8 350.6L1917.8 348.3L1919.8 347.0L1921.8 350.2L1923.8 351.6L1925.8 349.3L1927.8 350.0L1929.8 351.4L1931.8 354.8L1933.8 349.8L1935.8 352.8L1937.8 352.1L1939.8 352.4L1941.8 350.2L1943.8 352.2L1945.8 353.4L1947.8 352.9L1949.8 354.4L1951.8 354.7L1953.8 356.7L1955.8 353.9L1957.8 355.5L1959.8 353.9L1961.8 355.5L1963.8 353.9L1965.8 351.0L1967.8 353.7L1969.8 354.2L1971.8 353.2L1973.8 353.8L1975.8 356.0L1977.8 354.4L1979.8 356.3L1981.8 356.7L1983.8 355.7L1985.8 354.9L1987.8 353.9L1989.8 354.7L1991.8 357.4L1993.8 355.0L1995.8 357.3L1997.8 353.2L1999.8 352.2L2001.8 354.6L2003.8 355.7L2005.8 354.1L2007.8 355.1L2009.8 355.3L2011.8 354.5L2013.8 356.2L2015.8 354.7L2017.8 357.7L2019.8 354.8L2021.8 354.1L2023.8 355.1L2025.8 354.2L2027.8 356.6L2029.8 350.7L2031.8 355.8L2033.8 354.9L2035.8 352.4L2037.8 353.3L2039.8 357.8L2041.8 356.5L2043.8 355.4L2045.8 349.5L2047.8 356.8L2049.8 358.3L2051.8 355.6L2053.8 352.7L2055.8 354.7L2057.8 355.6L2059.8 354.6L2061.8 357.0L2063.8 358.6L2065.8 357.0L2067.8 357.7L2069.8 355.6L2071.8 355.6L2073.8 357.1L2075.8 355.3L2077.8 358.0L2079.8 356.4L2081.8 356.3L2083.8 357.3L2085.8 356.2L2087.8 358.2L2089.8 359.7L2091.8 356.5L2093.8 357.0L2095.8 358.4L2097.8 361.8L2099.8 358.5L2101.8 360.3L2103.8 357.2L2105.8 359.3L2107.8 361.8L2109.8 356.3L2111.8 359.0L2113.8 359.2L2115.8 362.6L2117.8 359.4L2119.8 358.6L2121.8 360.3L2123.8 360.4L2125.8 358.6L2127.8 357.7L2129.8 361.6L2131.8 357.0L2133.8 358.0L2135.8 359.4L2137.8 361.3L2139.8 357.4L2141.8 361.3L2143.8 361.0L2145.8 362.9L2147.8 359.2L2149.8 359.2L2151.8 360.6L2153.8 354.7L2155.8 359.3L2157.8 361.9L2159.8 358.6L2161.8 361.0L2163.8 360.8L2165.8 361.1L2167.8 359.4L2169.8 358.8L2171.8 360.1L2173.8 361.0L2175.8 363.4L2177.8 363.0L2179.8 361.2L2181.8 362.8L2183.8 360.7L2185.8 360.2L2187.8 364.7L2189.8 359.8L2191.8 359.8L2193.8 359.5L2195.8 363.7L2197.8 361.4L2199.8 361.2L2201.8 361.0L2203.8 360.6L2205.8 362.2L2207.8 360.2L2209.8 362.8L2211.8 361.0L2213.8 356.8L2215.8 360.2L2217.8 361.9L2219.8 361.8L2221.8 362.2L2223.8 364.3L2225.8 362.9L2227.8 366.6L2229.8 362.2L2231.8 363.2L2233.8 357.7L2235.8 363.2L2237.8 363.2L2239.8 363.2L2241.8 361.9L2243.8 363.8L2245.8 367.0L2247.8 363.3L2249.8 363.3L2251.8 362.7L2253.8 361.8L2255.8 361.3L2257.8 363.1L2259.8 363.1L2261.8 363.0L2263.8 363.9L2265.8 363.0L2267.8 364.4L2269.8 363.4L2271.8 362.6L2273.8 361.1L2275.8 364.8L2277.8 362.4L2279.8 365.1L2281.8 361.8L2283.8 362.4L2285.8 364.8L2287.8 363.4L2289.8 364.3L2291.8 366.2L2293.8 366.7L2295.8 362.5L2297.8 366.3L2299.8 364.1L2301.8 365.4L2303.8 362.2L2305.8 363.7L2307.8 365.2L2309.8 363.6L2311.8 364.7L2313.8 364.8L2315.8 363.5L2317.8 365.7L2319.8 366.4L2321.8 360.5L2323.8 363.9L2325.8 365.5L2327.8 366.2L2329.8 363.0L2331.8 365.5L2333.8 364.5L2335.8 366.8L2337.8 366.9L2339.8 366.5L2341.8 366.9L2343.8 365.4L2345.8 369.8L2347.8 364.8L2349.8 365.5L2351.8 365.8L2353.8 362.8L2355.8 365.7L2357.8 368.8L2359.8 366.9L2361.8 367.9L2363.8 367.4L2365.8 368.7L2367.8 364.0L2369.8 366.2L2371.8 366.6L2373.8 364.8L2375.8 366.7L2377.8 368.9"/>
<path stroke="#0000ff" d="M1325.8 510.6L1327.8 510.9L1329.8 508.4L1331.8 508.5L1333.8 510.8L1335.8 509.6L1337.8 510.7L1339.8 507.6L1341.8 510.6L1343.8 510.6L1345.8 507.4L1347.8 509.3L1349.8 509.8L1351.8 510.1L1353.8 508.6L1355.8 509.1L1357.8 506.3L1359.8 508.3L1361.8 509.0L1363.8 507.9L1365.8 507.3L1367.8 507.2L1369.8 506.8L1371.8 505.7L1373.8 504.9L1375.8 508.6L1377.8 509.3L1379.8 506.4L1381.8 505.5L1383.8 506.1L1385.8 509.3L1387.8 507.4L1389.8 508.4L1391.8 507.3L1393.8 508.5L1395.8 506.6L1397.8 508.3L1399.8 507.0L1401.8 507.6L1403.8 508.6L1405.8 507.3L1407.8 507.7L1409.8 507.7L1411.8 507.6L1413.8 506.9L1415.8 505.7L1417.8 506.4L1419.8 509.0L1421.8 507.8L1423.8 504.6L1425.8 506.2L1427.8 506.1L1429.8 507.1L1431.8 505.5L1433.8 511.3L1435.8 505.9L1437.8 503.8L1439.8 508.0L1441.8 507.1L1443.8 506.8L1445.8 506.2L1447.8 505.7L1449.8 505.8L1451.8 504.6L1453.8 506.1L1455.8 505.1L1457.8 506.5L1459.8 504.7L1461.8 505.4L1463.8 504.2L1465.8 509.0L1467.8 505.9L1469.8 507.1L1471.8 506.1L1473.8 506.6L1475.8 507.5L1477.8 505.5L1479.8 505.8L1481.8 505.4L1483.8 504.1L1485.8 508.0L1487.8 504.8L1489.8 506.8L1491.8 504.3L1493.8 505.3L1495.8 503.5L1497.8 504.0L1499.8 507.1L1501.8 505.9L1503.8 507.3L1505.8 505.6L1507.8 506.1L1509.8 503.8L1511.8 505.4L1513.8 504.9L1515.8 501.9L1517.8 507.3L1519.8 510.0L1521.8 505.6L1523.8 505.2L1525.8 508.8L1527.8 505.2L1529.8 506.0L1531.8 506.5L1533.8 506.2L1535.8 505.0L1537.8 505.0L1539.8 504.8L1541.8 505.8L1543.8 504.3L1545.8 507.0L1547.8 506.1L1549.8 504.1L1551.8 499.8L1553.8 501.9L1555.8 505.5L1557.8 503.5L1559.8 503.5L1561.8 505.2L1563.8 503.4L1565.8 504.4L1567.8 503.2L1569.8 500.6L1571.8 503.0L1573.8 502.7L1575.8 501.8L1577.8 502.4L1579.8 499.0L1581.8 500.6L1583.8 498.2L1585.8 499.6L1587.8 500.0L1589.8 503.0L1591.8 497.5L1593.8 500.5L1595.8 496.2L1597.8 503.7L1599.8 497.6L1601.8 495.5L1603.8 496.1L1605.8 497.1L1607.8 495.5L1609.8 495.0L1611.8 496.7L1613.8 494.2L1615.8 497.3L1617.8 496.0L1619.8 494.9L1621.8 493.9L1623.8 495.3L1625.8 493.2L1627.8 496.6L1629.8 496.8L1631.8 493.6L1633.8 493.5L1635.8 490.0L1637.8 493.0L1639.8 491.3L1641.8 491.5L1643.8 491.9L1645.8 489.7L1647.8 490.3L1649.8 490.4L1651.8 490.3L1653.8 492.9L1655.8 488.4L1657.8 489.3L1659.8 488.1L1661.8 488.8L1663.8 489.4L1665.8 489.2L1667.8 488.1L1669.8 489.2L1671.8 487.3L1673.8 486.3L1675.8 486.5L1677.8 486.0L1679.8 484.4L1681.8 484.6L1683.8 484.1L1685.8 480.3L1687.8 478.5L1689.8 471.5L1691.8 469.1L1693.8 467.8L1695.8 464.1L1697.8 463.2L1699.8 460.7L1701.8 457.0L1703.8 454.8L1705.8 452.1L1707.8 447.4L1709.8 443.8L1711.8 440.2L1713.8 436.5L1715.8 431.2L1717.8 426.5L1719.8 418.6L1721.8 412.4L1723.8 405.1L1725.8 398.2L1727.8 391.2L1729.8 384.4L1731.8 377.5L1733.8 371.0L1735.8 365.0L1737.8 359.0L1739.8 353.1L1741.8 347.1L1743.8 344.0L1745.8 336.7L1747.8 331.6L1749.8 328.2L1751.8 320.1L1753.8 319.7L1755.8 316.1L1757.8 313.9L1759.8 312.8L1761.8 312.6L1763.8 310.6L1765.8 312.0L1767.8 311.7L1769.8 312.3L1771.8 314.7L1773.8 317.1L1775.8 320.0L1777.8 323.1L1779.8 326.6L1781.8 332.0L1783.8 336.2L1785.8 342.8L1787.8 347.3L1789.8 353.0L1791.8 359.4L1793.8 365.1L1795.8 370.8L1797.8 376.3L1799.8 383.8L1801.8 388.7L1803.8 394.0L1805.8 401.1L1807.8 407.1L1809.8 413.8L1811.8 419.7L1813.8 425.8L1815.8 430.5L1817.8 436.0L1819.8 438.8L1821.8 443.7L1823.8 446.0L1825.8 449.8L1827.8 453.0L1829.8 454.7L1831.8 457.8L1833.8 459.8L1835.8 461.9L1837.8 464.3L1839.8 467.2L1841.8 470.0L1843.8 472.1L1845.8 475.3L1847.8 476.7L1849.8 478.1L1851.8 481.1L1853.8 480.7L1855.8 483.3L1857.8 484.5L1859.8 483.7L1861.8 484.5L1863.8 485.5L1865.8 483.1L1867.8 491.0L1869.8 486.5L1871.8 490.2L1873.8 489.4L1875.8 492.6L1877.8 493.1L1879.8 492.3L1881.8 493.4L1883.8 491.7L1885.8 494.1L1887.8 494.6L1889.8 496.6L1891.8 493.7L1893.8 499.2L1895.8 496.5L1897.8 498.2L1899.8 498.4L1901.8 497.6L1903.8 501.4L1905.8 499.9L1907.8 500.7L1909.8 502.1L1911.8 501.5L1913.8 502.7L1915.8 502.1L1917.8 503.8L1919.8 502.0L1921.8 500.5L1923.8 506.6L1925.8 504.0L1927.8 502.1L1929.8 503.0L1931.8 505.8L1933.8 508.9L1935.8 503.9L1937.8 504.1L1939.8 505.7L1941.8 506.3L1943.8 505.8L1945.8 506.8L1947.8 510.6L1949.8 506.7L1951.8 507.8L1953.8 508.9L1955.8 507.2L1957.8 509.9L1959.8 510.3L1961.8 508.9L1963.8 509.2L1965.8 510.8L1967.8 511.4L1969.8 509.4L1971.8 513.3L1973.8 510.6L1975.8 510.5L1977.8 513.3L1979.8 508.6L1981.8 506.4L1983.8 512.4L1985.8 510.8L1987.8 511.0L1989.8 513.1L1991.8 511.4L1993.8 512.3L1995.8 509.3L1997.8 513.8L1999.8 509.7L2001.8 514.1L2003.8 510.5L2005.8 510.0L2007.8 508.1L2009.8 511.9L2011.8 512.0L2013.8 513.1L2015.8 512.8L2017.8 512.6L2019.8 508.7L2021.8 509.7L2023.8 512.7L2025.8 514.3L2027.8 512.1L2029.8 511.1L2031.8 514.5L2033.8 512.1L2035.8 512.7L2037.8 513.8L2039.8 515.1L2041.8 512.0L2043.8 512.4L2045.8 513.0L2047.8 514.0L2049.8 515.8L2051.8 517.2L2053.8 515.0L2055.8 516.9L2057.8 515.1L2059.8 513.0L2061.8 513.7L2063.8 514.8L2065.8 513.9L2067.8 515.3L2069.8 514.6L2071.8 515.9L2073.8 516.8L2075.8 517.5L2077.8 515.6L2079.8 517.2L2081.8 514.4L2083.8 516.4L2085.8 516.3L2087.8 518.0L2089.8 516.3L2091.8 518.1L2093.8 516.2L2095.8 516.2L2097.8 516.6L2099.8 519.1L2101.8 516.8L2103.8 516.7L2105.8 516.4L2107.8 511.4L2109.8 517.3L2111.8 516.3L2113.8 518.4L2115.8 517.2L2117.8 513.5L2119.8 511.3L2121.8 519.8L2123.8 516.8L2125.8 512.2L2127.8 515.3L2129.8 516.9L2131.8 514.3L2133.8 518.7L2135.8 519.1L2137.8 521.3L2139.8 516.3L2141.8 517.8L2143.8 516.7L2145.8 516.6L2147.8 517.5L2149.8 518.1L2151.8 517.2L2153.8 519.7L2155.8 514.5L2157.8 515.1L2159.8 519.3L2161.8 517.0L2163.8 517.4L2165.8 515.7L2167.8 520.0L2169.8 525.4L2171.8 518.3L2173.8 517.0L2175.8 515.9L2177.8 520.3L2179.8 519.7L2181.8 520.4L2183.8 519.2L2185.8 517.2L2187.8 517.8L2189.8 516.2L2191.8 521.3L2193.8 519.8L2195.8 516.6L2197.8 517.9L2199.8 518.5L2201.8 520.9L2203.8 518.9L2205.8 520.1L2207.8 519.5L2209.8 518.1L2211.8 518.1L2213.8 517.1L2215.8 520.4L2217.8 518.7L2219.8 519.8L2221.8 518.4L2223.8 518.7L2225.8 515.6L2227.8 525.7L2229.8 519.4L2231.8 518.7L2233.8 517.7L2235.8 518.9L2237.8 519.6L2239.8 518.7L2241.8 518.1L2243.8 518.5L2245.8 519.6L2247.8 524.6L2249.8 520.1L2251.8 519.2L2253.8 520.1L2255.8 517.1L2257.8 517.4L2259.8 519.0L2261.8 520.3L2263.8 518.9L2265.8 516.3L2267.8 521.7L2269.8 517.5L2271.8 516.0L2273.8 519.9L2275.8 521.3L2277.8 518.3L2279.8 518.6L2281.8 519.1L2283.8 520.7L2285.8 518.7L2287.8 522.3L2289.8 520.8L2291.8 520.9L2293.8 520.2L2295.8 518.1L2297.8 518.9L2299.8 520.1L2301.8 520.0L2303.8 520.2L2305.8 522.5L2307.8 520.7L2309.8 522.0L2311.8 519.2L2313.8 518.9L2315.8 519.8L2317.8 517.8L2319.8 520.5L2321.8 520.7L2323.8 519.6L2325.8 522.2L2327.8 520.9L2329.8 519.5L2331.8 518.5L2333.8 520.0L2335.8 518.3L2337.8 520.6L2339.8 522.0L2341.8 518.1L2343.8 517.8L2345.8 519.8L2347.8 515.4L2349.8 521.4L2351.8 516.2L2353.8 519.2L2355.8 519.1L2357.8 518.2L2359.8 519.5L2361.8 517.1L2363.8 517.2L2365.8 518.0L2367.8 520.6L2369.8 518.3L2371.8 520.2L2373.8 520.8L2375.8 517.0L2377.8 520.5"/>
<path stroke="#ff0000" d="M1325.8 663.8L1327.8 662.1L1329.8 662.4L1331.8 662.7L1333.8 660.1L1335.8 663.9L1337.8 662.8L1339.8 658.0L1341.8 661.3L1343.8 660.2L1345.8 662.9L1347.8 660.5L1349.8 660.5L1351.8 659.8L1353.8 661.9L1355.8 662.5L1357.8 662.5L1359.8 659.7L1361.8 659.2L1363.8 661.0L1365.8 661.0L1367.8 661.3L1369.8 658.4L1371.8 661.1L1373.8 662.3L1375.8 659.6L1377.8 660.9L1379.8 660.6L1381.8 665.9L1383.8 661.9L1385.8 661.7L1387.8 663.9L1389.8 657.0L1391.8 662.1L1393.8 661.2L1395.8 662.3L1397.8 660.0L1399.8 662.0L1401.8 660.5L1403.8 660.0L1405.8 657.5L1407.8 660.2L1409.8 661.5L1411.8 665.3L1413.8 656.3L1415.8 662.6L1417.8 660.9L1419.8 659.7L1421.8 661.7L1423.8 659.4L1425.8 663.4L1427.8 661.6L1429.8 660.5L1431.8 661.5L1433.8 660.5L1435.8 659.8L1437.8 665.6L1439.8 661.5L1441.8 661.1L1443.8 660.3L1445.8 660.5L1447.8 660.2L1449.8 661.1L1451.8 661.2L1453.8 661.9L1455.8 661.4L1457.8 661.5L1459.8 661.0L1461.8 661.7L1463.8 663.3L1465.8 659.6L1467.8 663.8L1469.8 661.5L1471.8 661.8L1473.8 660.3L1475.8 658.6L1477.8 661.2L1479.8 662.8L1481.8 661.9L1483.8 662.7L1485.8 663.5L1487.8 663.3L1489.8 666.5L1491.8 663.4L1493.8 663.5L1495.8 662.6L1497.8 662.7L1499.8 661.9L1501.8 661.7L1503.8 667.0L1505.8 661.9L1507.8 664.8L1509.8 662.0L1511.8 662.7L1513.8 663.1L1515.8 663.1L1517.8 663.5L1519.8 660.0L1521.8 663.4L1523.8 662.6L1525.8 662.1L1527.8 661.1L1529.8 664.9L1531.8 658.6L1533.8 662.1L1535.8 666.0L1537.8 663.0L1539.8 663.3L1541.8 661.5L1543.8 660.3L1545.8 661.6L1547.8 659.4L1549.8 662.3L1551.8 661.9L1553.8 662.2L1555.8 663.1L1557.8 660.4L1559.8 663.3L1561.8 661.9L1563.8 661.0L1565.8 659.7L1567.8 659.6L1569.8 659.7L1571.8 660.2L1573.8 662.2L1575.8 660.8L1577.8 662.2L1579.8 664.0L1581.8 661.7L1583.8 659.7L1585.8 660.1L1587.8 658.3L1589.8 662.0L1591.8 661.6L1593.8 658.9L1595.8 663.1L1597.8 659.9L1599.8 660.1L1601.8 659.4L1603.8 659.3L1605.8 660.2L1607.8 660.1L1609.8 660.9L1611.8 659.3L1613.8 659.7L1615.8 659.8L1617.8 659.6L1619.8 661.5L1621.8 658.8L1623.8 660.4L1625.8 660.5L1627.8 657.3L1629.8 660.1L1631.8 656.8L1633.8 657.1L1635.8 657.4L1637.8 657.2L1639.8 651.7L1641.8 657.8L1643.8 653.3L1645.8 651.9L1647.8 655.1L1649.8 654.1L1651.8 652.4L1653.8 654.3L1655.8 654.4L1657.8 654.6L1659.8 652.6L1661.8 651.9L1663.8 651.8L1665.8 651.5L1667.8 649.2L1669.8 651.3L1671.8 650.8L1673.8 651.0L1675.8 649.6L1677.8 649.0L1679.8 648.3L1681.8 648.7L1683.8 646.3L1685.8 644.3L1687.8 644.9L1689.8 642.1L1691.8 643.5L1693.8 645.4L1695.8 643.9L1697.8 640.5L1699.8 639.7L1701.8 640.2L1703.8 638.2L1705.8 638.5L1707.8 634.4L1709.8 633.9L1711.8 631.4L1713.8 631.6L1715.8 628.3L1717.8 627.0L1719.8 624.8L1721.8 625.3L1723.8 623.3L1725.8 623.4L1727.8 623.4L1729.8 622.9L1731.8 621.4L1733.8 619.9L1735.8 619.5L1737.8 618.1L1739.8 615.9L1741.8 615.6L1743.8 614.8L1745.8 613.1L1747.8 611.8L1749.8 610.6L1751.8 609.4L1753.8 607.3L1755.8 606.3L1757.8 604.7L1759.8 603.9L1761.8 603.5L1763.8 602.7L1765.8 601.5L1767.8 600.0L1769.8 599.2L1771.8 599.0L1773.8 597.8L1775.8 597.0L1777.8 597.0L1779.8 596.5L1781.8 595.5L1783.8 595.0L1785.8 594.9L1787.8 594.2L1789.8 594.2L1791.8 594.6L1793.8 594.9L1795.8 595.3L1797.8 595.9L1799.8 595.9L1801.8 595.9L1803.8 595.8L1805.8 596.3L1807.8 596.6L1809.8 598.0L1811.8 598.2L1813.8 598.1L1815.8 598.1L1817.8 599.1L1819.8 599.6L1821.8 601.1L1823.8 602.4L1825.8 604.6L1827.8 605.5L1829.8 606.3L1831.8 608.2L1833.8 608.2L1835.8 609.7L1837.8 611.2L1839.8 612.9L1841.8 613.2L1843.8 614.6L1845.8 615.4L1847.8 617.7L1849.8 618.5L1851.8 619.0L1853.8 620.8L1855.8 622.9L1857.8 624.7L1859.8 625.2L1861.8 626.3L1863.8 627.9L1865.8 628.4L1867.8 629.4L1869.8 629.2L1871.8 633.0L1873.8 633.6L1875.8 633.7L1877.8 637.4L1879.8 638.3L1881.8 641.6L1883.8 641.3L1885.8 643.7L1887.8 642.5L1889.8 646.1L1891.8 645.9L1893.8 644.8L1895.8 646.8L1897.8 647.1L1899.8 648.2L1901.8 649.4L1903.8 648.7L1905.8 651.6L1907.8 651.6L1909.8 653.7L1911.8 655.0L1913.8 658.0L1915.8 653.0L1917.8 655.9L1919.8 656.8L1921.8 657.0L1923.8 651.9L1925.8 657.8L1927.8 659.3L1929.8 650.4L1931.8 656.7L1933.8 654.4L1935.8 655.7L1937.8 656.7L1939.8 658.4L1941.8 657.0L1943.8 655.3L1945.8 660.3L1947.8 656.0L1949.8 657.0L1951.8 659.8L1953.8 658.2L1955.8 659.6L1957.8 660.1L1959.8 662.4L1961.8 660.5L1963.8 661.3L1965.8 659.4L1967.8 661.0L1969.8 660.6L1971.8 660.9L1973.8 662.6L1975.8 663.8L1977.8 662.8L1979.8 663.3L1981.8 665.3L1983.8 665.1L1985.8 663.6L1987.8 658.2L1989.8 663.8L1991.8 661.8L1993.8 665.0L1995.8 661.0L1997.8 663.9L1999.8 662.5L2001.8 663.9L2003.8 662.2L2005.8 663.5L2007.8 665.2L2009.8 667.0L2011.8 663.3L2013.8 666.6L2015.8 664.6L2017.8 663.6L2019.8 664.0L2021.8 666.1L2023.8 669.1L2025.8 666.2L2027.8 664.4L2029.8 664.8L2031.8 664.8L2033.8 668.2L2035.8 666.1L2037.8 661.7L2039.8 665.2L2041.8 661.3L2043.8 666.0L2045.8 665.7L2047.8 665.4L2049.8 664.5L2051.8 662.7L2053.8 664.0L2055.8 665.3L2057.8 664.0L2059.8 664.6L2061.8 665.4L2063.8 665.4L2065.8 665.2L2067.8 665.1L2069.8 665.3L2071.8 666.3L2073.8 666.4L2075.8 664.8L2077.8 663.7L2079.8 664.1L2081.8 664.5L2083.8 665.2L2085.8 664.5L2087.8 666.6L2089.8 665.1L2091.8 667.4L2093.8 665.4L2095.8 664.0L2097.8 667.1L2099.8 668.0L2101.8 666.3L2103.8 667.1L2105.8 665.2L2107.8 668.4L2109.8 665.7L2111.8 668.2L2113.8 666.6L2115.8 667.3L2117.8 666.4L2119.8 666.8L2121.8 668.6L2123.8 669.2L2125.8 666.2L2127.8 666.0L2129.8 666.3L2131.8 666.0L2133.8 667.9L2135.8 666.2L2137.8 670.6L2139.8 665.2L2141.8 669.8L2143.8 666.2L2145.8 666.7L2147.8 666.6L2149.8 666.9L2151.8 666.7L2153.8 667.5L2155.8 669.6L2157.8 668.1L2159.8 670.1L2161.8 667.5L2163.8 669.3L2165.8 668.6L2167.8 669.2L2169.8 667.1L2171.8 666.3L2173.8 670.3L2175.8 669.6L2177.8 669.2L2179.8 669.4L2181.8 669.4L2183.8 667.9L2185.8 668.1L2187.8 669.3L2189.8 668.8L2191.8 668.8L2193.8 669.0L2195.8 668.6L2197.8 667.8L2199.8 667.6L2201.8 666.7L2203.8 673.9L2205.8 670.4L2207.8 669.4L2209.8 669.5L2211.8 669.8L2213.8 670.4L2215.8 669.0L2217.8 668.3L2219.8 672.4L2221.8 669.0L2223.8 672.2L2225.8 669.1L2227.8 671.7L2229.8 669.9L2231.8 670.9L2233.8 671.4L2235.8 671.8L2237.8 669.7L2239.8 669.6L2241.8 673.4L2243.8 667.7L2245.8 669.1L2247.8 671.5L2249.8 671.1L2251.8 673.5L2253.8 671.4L2255.8 673.8L2257.8 676.7L2259.8 673.1L2261.8 671.7L2263.8 672.4L2265.8 670.9L2267.8 673.4L2269.8 671.6L2271.8 673.2L2273.8 671.0L2275.8 671.7L2277.8 674.4L2279.8 671.3L2281.8 672.6L2283.8 675.0L2285.8 671.3L2287.8 670.9L2289.8 672.9L2291.8 672.1L2293.8 672.4L2295.8 670.6L2297.8 671.1L2299.8 673.5L2301.8 673.2L2303.8 674.0L2305.8 672.1L2307.8 673.0L2309.8 670.9L2311.8 673.9L2313.8 675.8L2315.8 673.7L2317.8 672.7L2319.8 672.1L2321.8 671.7L2323.8 671.0L2325.8 674.8L2327.8 675.3L2329.8 672.1L2331.8 673.2L2333.8 671.7L2335.8 674.7L2337.8 672.0L2339.8 675.2L2341.8 673.2L2343.8 672.7L2345.8 672.0L2347.8 674.1L2349.8 673.8L2351.8 673.3L2353.8 673.6L2355.8 673.1L2357.8 671.4L2359.8 671.7L2361.8 674.4L2363.8 674.6L2365.8 673.8L2367.8 672.5L2369.8 673.1L2371.8 674.0L2373.8 673.0L2375.8 671.7L2377.8 670.4"/>
<path stroke="#000000" d="M1325.8 801.6L1327.8 798.3L1329.8 798.0L1331.8 798.1L1333.8 799.3L1335.8 799.3L1337.8 799.7L1339.8 799.2L1341.8 799.6L1343.8 802.2L1345.8 798.8L1347.8 799.7L1349.8 796.9L1351.8 797.5L1353.8 796.3L1355.8 800.3L1357.8 803.6L1359.8 801.1L1361.8 796.8L1363.8 796.6L1365.8 798.3L1367.8 798.6L1369.8 799.6L1371.8 800.2L1373.8 801.0L1375.8 798.8L1377.8 797.1L1379.8 797.2L1381.8 796.5L1383.8 798.1L1385.8 797.6L1387.8 796.1L1389.8 796.9L1391.8 798.3L1393.8 801.3L1395.8 798.9L1397.8 797.9L1399.8 798.6L1401.8 799.1L1403.8 796.7L1405.8 800.1L1407.8 793.3L1409.8 797.0L1411.8 799.3L1413.8 799.8L1415.8 796.2L1417.8 798.0L1419.8 796.4L1421.8 795.3L1423.8 798.0L1425.8 800.7L1427.8 798.2L1429.8 794.8L1431.8 798.5L1433.8 796.4L1435.8 799.5L1437.8 798.5L1439.8 797.5L1441.8 802.5L1443.8 800.7L1445.8 796.0L1447.8 798.4L1449.8 801.9L1451.8 799.3L1453.8 799.5L1455.8 799.3L1457.8 794.6L1459.8 795.5L1461.8 795.1L1463.8 798.1L1465.8 798.0L1467.8 796.8L1469.8 797.2L1471.8 798.0L1473.8 796.0L1475.8 798.3L1477.8 800.0L1479.8 796.7L1481.8 795.9L1483.8 799.2L1485.8 797.8L1487.8 796.3L1489.8 798.6L1491.8 795.8L1493.8 794.6L1495.8 796.3L1497.8 796.6L1499.8 799.3L1501.8 798.3L1503.8 798.2L1505.8 797.1L1507.8 798.9L1509.8 797.7L1511.8 799.2L1513.8 795.8L1515.8 799.2L1517.8 796.0L1519.8 798.6L1521.8 795.5L1523.8 795.6L1525.8 796.0L1527.8 795.3L1529.8 797.6L1531.8 797.3L1533.8 798.6L1535.8 796.5L1537.8 794.8L1539.8 796.6L1541.8 798.4L1543.8 794.7L1545.8 797.4L1547.8 795.8L1549.8 796.8L1551.8 800.2L1553.8 792.9L1555.8 798.5L1557.8 797.5L1559.8 798.4L1561.8 797.4L1563.8 796.7L1565.8 796.7L1567.8 795.4L1569.8 797.2L1571.8 795.7L1573.8 794.5L1575.8 793.9L1577.8 796.4L1579.8 795.6L1581.8 796.9L1583.8 802.6L1585.8 796.0L1587.8 794.0L1589.8 797.3L1591.8 800.4L1593.8 792.6L1595.8 795.4L1597.8 796.4L1599.8 798.0L1601.8 793.9L1603.8 794.1L1605.8 795.1L1607.8 794.2L1609.8 793.0L1611.8 790.5L1613.8 795.0L1615.8 795.4L1617.8 796.1L1619.8 793.8L1621.8 795.2L1623.8 795.5L1625.8 794.6L1627.8 796.5L1629.8 797.0L1631.8 796.1L1633.8 793.9L1635.8 794.0L1637.8 795.2L1639.8 790.6L1641.8 794.4L1643.8 792.6L1645.8 792.2L1647.8 789.3L1649.8 791.2L1651.8 789.1L1653.8 790.3L1655.8 789.8L1657.8 790.7L1659.8 789.4L1661.8 789.1L1663.8 788.0L1665.8 786.5L1667.8 783.3L1669.8 786.9L1671.8 787.5L1673.8 789.9L1675.8 785.5L1677.8 787.1L1679.8 784.0L1681.8 785.9L1683.8 784.4L1685.8 784.1L1687.8 782.2L1689.8 784.3L1691.8 783.8L1693.8 783.7L1695.8 790.4L1697.8 782.5L1699.8 784.1L1701.8 781.5L1703.8 782.7L1705.8 780.4L1707.8 780.6L1709.8 780.1L1711.8 780.0L1713.8 776.4L1715.8 777.1L1717.8 772.7L1719.8 778.5L1721.8 776.9L1723.8 777.2L1725.8 776.0L1727.8 775.8L1729.8 771.6L1731.8 776.0L1733.8 771.4L1735.8 772.3L1737.8 773.2L1739.8 771.4L1741.8 772.4L1743.8 766.5L1745.8 768.3L1747.8 770.1L1749.8 770.5L1751.8 770.4L1753.8 769.5L1755.8 769.4L1757.8 769.4L1759.8 769.1L1761.8 767.7L1763.8 767.6L1765.8 766.5L1767.8 766.5L1769.8 768.5L1771.8 766.9L1773.8 765.9L1775.8 767.2L1777.8 766.4L1779.8 764.9L1781.8 765.9L1783.8 764.1L1785.8 764.0L1787.8 763.7L1789.8 764.3L1791.8 763.9L1793.8 763.9L1795.8 764.4L1797.8 763.0L1799.8 767.6L1801.8 764.5L1803.8 763.2L1805.8 764.2L1807.8 764.9L1809.8 763.8L1811.8 764.5L1813.8 765.0L1815.8 763.9L1817.8 768.6L1819.8 764.2L1821.8 764.9L1823.8 765.8L1825.8 766.2L1827.8 768.0L1829.8 766.5L1831.8 767.4L1833.8 767.7L1835.8 767.1L1837.8 767.2L1839.8 769.2L1841.8 769.2L1843.8 770.0L1845.8 772.1L1847.8 773.0L1849.8 772.1L1851.8 774.8L1853.8 771.8L1855.8 777.7L1857.8 774.3L1859.8 775.9L1861.8 781.5L1863.8 781.7L1865.8 778.9L1867.8 779.9L1869.8 780.3L1871.8 778.9L1873.8 781.1L1875.8 788.2L1877.8 784.0L1879.8 783.9L1881.8 783.6L1883.8 787.5L1885.8 785.1L1887.8 785.5L1889.8 789.6L1891.8 783.5L1893.8 786.1L1895.8 783.8L1897.8 787.8L1899.8 786.0L1901.8 788.9L1903.8 787.7L1905.8 789.4L1907.8 787.5L1909.8 788.5L1911.8 790.2L1913.8 791.4L1915.8 793.3L1917.8 791.2L1919.8 790.6L1921.8 791.9L1923.8 793.9L1925.8 795.7L1927.8 792.3L1929.8 794.6L1931.8 793.8L1933.8 795.1L1935.8 794.3L1937.8 794.0L1939.8 797.9L1941.8 794.8L1943.8 796.6L1945.8 795.5L1947.8 795.1L1949.8 796.1L1951.8 793.2L1953.8 796.3L1955.8 795.1L1957.8 798.9L1959.8 796.1L1961.8 797.1L1963.8 794.7L1965.8 799.6L1967.8 798.0L1969.8 799.8L1971.8 799.7L1973.8 797.0L1975.8 798.7L1977.8 799.1L1979.8 799.5L1981.8 805.1L1983.8 801.9L1985.8 801.5L1987.8 802.7L1989.8 794.8L1991.8 800.0L1993.8 801.4L1995.8 802.8L1997.8 801.3L1999.8 801.2L2001.8 801.6L2003.8 802.8L2005.8 800.9L2007.8 801.7L2009.8 798.7L2011.8 803.7L2013.8 801.9L2015.8 800.7L2017.8 802.6L2019.8 797.7L2021.8 801.5L2023.8 803.1L2025.8 806.9L2027.8 801.1L2029.8 802.1L2031.8 802.7L2033.8 798.1L2035.8 801.2L2037.8 804.1L2039.8 803.4L2041.8 801.2L2043.8 801.4L2045.8 802.9L2047.8 803.5L2049.8 805.8L2051.8 799.1L2053.8 801.8L2055.8 802.3L2057.8 801.7L2059.8 800.6L2061.8 804.4L2063.8 805.0L2065.8 801.8L2067.8 803.4L2069.8 804.1L2071.8 805.2L2073.8 804.2L2075.8 807.5L2077.8 806.2L2079.8 805.1L2081.8 806.7L2083.8 803.5L2085.8 804.6L2087.8 806.3L2089.8 808.5L2091.8 804.4L2093.8 802.6L2095.8 804.6L2097.8 807.2L2099.8 805.7L2101.8 804.9L2103.8 804.5L2105.8 801.0L2107.8 804.6L2109.8 805.0L2111.8 806.7L2113.8 803.6L2115.8 803.7L2117.8 805.4L2119.8 805.4L2121.8 803.3L2123.8 806.4L2125.8 802.3L2127.8 806.0L2129.8 804.0L2131.8 802.8L2133.8 806.1L2135.8 803.8L2137.8 804.6L2139.8 804.8L2141.8 804.9L2143.8 805.5L2145.8 804.9L2147.8 805.0L2149.8 804.8L2151.8 805.9L2153.8 806.1L2155.8 803.6L2157.8 805.7L2159.8 807.2L2161.8 806.1L2163.8 804.7L2165.8 805.0L2167.8 804.2L2169.8 805.3L2171.8 808.5L2173.8 801.5L2175.8 805.9L2177.8 804.0L2179.8 808.1L2181.8 808.3L2183.8 804.6L2185.8 805.2L2187.8 808.7L2189.8 805.8L2191.8 805.6L2193.8 806.1L2195.8 805.5L2197.8 807.0L2199.8 806.7L2201.8 808.3L2203.8 805.8L2205.8 805.6L2207.8 808.6L2209.8 806.1L2211.8 806.1L2213.8 807.0L2215.8 806.1L2217.8 808.5L2219.8 807.9L2221.8 805.5L2223.8 805.7L2225.8 807.5L2227.8 808.0L2229.8 805.2L2231.8 810.4L2233.8 805.7L2235.8 806.5L2237.8 808.1L2239.8 807.7L2241.8 805.2L2243.8 805.5L2245.8 808.6L2247.8 807.7L2249.8 806.8L2251.8 804.1L2253.8 807.6L2255.8 809.0L2257.8 805.7L2259.8 804.8L2261.8 805.5L2263.8 806.4L2265.8 806.7L2267.8 804.7L2269.8 809.9L2271.8 806.5L2273.8 804.9L2275.8 808.7L2277.8 806.5L2279.8 808.1L2281.8 808.1L2283.8 807.0L2285.8 809.7L2287.8 809.4L2289.8 806.3L2291.8 811.2L2293.8 808.3L2295.8 807.5L2297.8 805.7L2299.8 804.1L2301.8 805.9L2303.8 807.6L2305.8 808.4L2307.8 806.7L2309.8 806.1L2311.8 807.2L2313.8 809.3L2315.8 807.0L2317.8 807.3L2319.8 809.0L2321.8 809.5L2323.8 807.7L2325.8 809.8L2327.8 809.2L2329.8 809.5L2331.8 809.0L2333.8 807.1L2335.8 809.3L2337.8 811.0L2339.8 809.3L2341.8 809.1L2343.8 810.1L2345.8 810.2L2347.8 809.0L2349.8 808.1L2351.8 811.1L2353.8 808.5L2355.8 809.1L2357.8 810.1L2359.8 807.9L2361.8 809.8L2363.8 805.3L2365.8 810.3L2367.8 808.1L2369.8 809.1L2371.8 811.8L2373.8 809.5L2375.8 807.9L2377.8 811.5"/>
</g>
<line x1="1745.5" y1="29.4" x2="1797.8" y2="821" stroke="#ff0a87" stroke-width="6.5" stroke-dasharray="38.4 38.0"/>
<path d="M1323.0 26.90H2384.8" stroke="#9c9c9c" stroke-width="2.2" fill="none"/>
<path d="M1324.00 25.8V838.4" stroke="#9c9c9c" stroke-width="2.0" fill="none"/>
<path d="M2380.60 28.2V852.5" stroke="#9c9c9c" stroke-width="2.8" fill="none"/>
<path d="M1323.0 837.25H2384.8" stroke="#9c9c9c" stroke-width="2.3" fill="none"/>
<path d="M1323.0 29.40H2384.8" stroke="#262626" stroke-width="2.4" fill="none"/>
<path d="M1326.10 28.2V844.0" stroke="#262626" stroke-width="2.2" fill="none"/>
<path d="M2383.40 28.2V852.5" stroke="#262626" stroke-width="2.8" fill="none"/>
<path d="M1323.0 834.95H2384.8" stroke="#262626" stroke-width="2.3" fill="none"/>
<path d="M1475.8 835V852.5M1626.7 835V844M1777.6 835V852.5M1928.5 835V844M2079.4 835V852.5M2230.3 835V844" stroke="#262626" stroke-width="2.9" fill="none"/>
<g font-family="'Liberation Serif','Times New Roman',serif" font-weight="bold" fill="#000" stroke="#fff" stroke-width="0.7">
<text transform="translate(116.4 898.5) scale(0.95 1)" font-size="56" text-anchor="middle" stroke-width="0.9">20</text>
<text transform="translate(293.6 898.5) scale(0.95 1)" font-size="56" text-anchor="middle" stroke-width="0.9">30</text>
<text transform="translate(470.8 898.5) scale(0.95 1)" font-size="56" text-anchor="middle" stroke-width="0.9">40</text>
<text transform="translate(648.0 898.5) scale(0.95 1)" font-size="56" text-anchor="middle" stroke-width="0.9">50</text>
<text transform="translate(825.2 898.5) scale(0.95 1)" font-size="56" text-anchor="middle" stroke-width="0.9">60</text>
<text transform="translate(1002.4 898.5) scale(0.95 1)" font-size="56" text-anchor="middle" stroke-width="0.9">70</text>
<text transform="translate(1179.6 898.5) scale(0.95 1)" font-size="56" text-anchor="middle" stroke-width="0.9">80</text>
<text transform="translate(1476.6 904.8) scale(0.95 1)" font-size="56" text-anchor="middle" stroke-width="0.9">22</text>
<text transform="translate(1778.4 904.8) scale(0.95 1)" font-size="56" text-anchor="middle" stroke-width="0.9">24</text>
<text transform="translate(2080.2 904.8) scale(0.95 1)" font-size="56" text-anchor="middle" stroke-width="0.9">26</text>
<text transform="translate(2382.0 904.8) scale(0.95 1)" font-size="56" text-anchor="middle" stroke-width="0.9">28</text>
<text x="536.8" y="958.6" font-size="54">2 theta (<tspan font-size="28" dy="-26" stroke="none">o</tspan><tspan dy="26">)</tspan></text>
<text x="1777.8" y="963" font-size="56.3">2 theta (<tspan font-size="29" dy="-27" stroke="none">o</tspan><tspan dy="27">)</tspan></text>
<text transform="translate(52.5 682.6) rotate(-90)" font-size="52.75">Intensity (arb. unit)</text>
<text transform="translate(1294.8 694.0) rotate(-90)" font-size="54.7">Intensity (arb. unit)</text>
<text x="120.5" y="75" font-size="66.5" text-anchor="start" stroke-width="1.4">(a)</text>
<text x="1332.5" y="87" font-size="64.5" text-anchor="start" stroke-width="1.4">(b)</text>
<text x="119" y="153.7" font-size="52.2" text-anchor="start" >FePt (001)</text>
<text x="378.5" y="131" font-size="52.3" text-anchor="start" >MgO &amp;</text>
<text x="327" y="201.6" font-size="52" text-anchor="start" >background</text>
<text x="516.5" y="72" font-size="52.6" text-anchor="start" >FePt (002)</text>
<line x1="765.5" y1="59.5" x2="864" y2="59.5" stroke="#ff00ff" stroke-width="5.8"/>
<text transform="translate(872.4 74.1) scale(1.03 1)" font-size="40.5">Sample 5<tspan font-size="24.5" dy="-19.5" stroke="none">#</tspan></text>
<line x1="765.5" y1="117.3" x2="864" y2="117.3" stroke="#008b8b" stroke-width="5.8"/>
<text transform="translate(872.4 131.9) scale(1.03 1)" font-size="40.5">Sample 4<tspan font-size="24.5" dy="-19.5" stroke="none">#</tspan></text>
<line x1="765.5" y1="175.0" x2="864" y2="175.0" stroke="#0000ff" stroke-width="5.8"/>
<text transform="translate(872.4 189.6) scale(1.03 1)" font-size="40.5">Sample 3<tspan font-size="24.5" dy="-19.5" stroke="none">#</tspan></text>
<line x1="765.5" y1="230.4" x2="864" y2="230.4" stroke="#ff0000" stroke-width="5.8"/>
<text transform="translate(872.4 245.0) scale(1.03 1)" font-size="40.5">Sample 2<tspan font-size="24.5" dy="-19.5" stroke="none">#</tspan></text>
<line x1="765.5" y1="287.6" x2="864" y2="287.6" stroke="#000000" stroke-width="5.8"/>
<text transform="translate(872.4 302.2) scale(1.03 1)" font-size="40.5">Sample 1<tspan font-size="24.5" dy="-19.5" stroke="none">#</tspan></text>
<text transform="translate(2078.7 141.3) scale(1.06 1)" font-size="40.5">Sample 5<tspan font-size="24.5" dy="-20" stroke="none">#</tspan></text>
<text transform="translate(2081.7 328.3) scale(1.06 1)" font-size="40.5">Sample 4<tspan font-size="24.5" dy="-20" stroke="none">#</tspan></text>
<text transform="translate(2084.7 481.3) scale(1.06 1)" font-size="40.5">Sample 3<tspan font-size="24.5" dy="-20" stroke="none">#</tspan></text>
<text transform="translate(2083.5 637.8) scale(1.06 1)" font-size="40.5">Sample 2<tspan font-size="24.5" dy="-20" stroke="none">#</tspan></text>
<text transform="translate(2084.3 782.9) scale(1.06 1)" font-size="40.5">Sample 1<tspan font-size="24.5" dy="-20" stroke="none">#</tspan></text>
</g>
</svg>
</body></html>
